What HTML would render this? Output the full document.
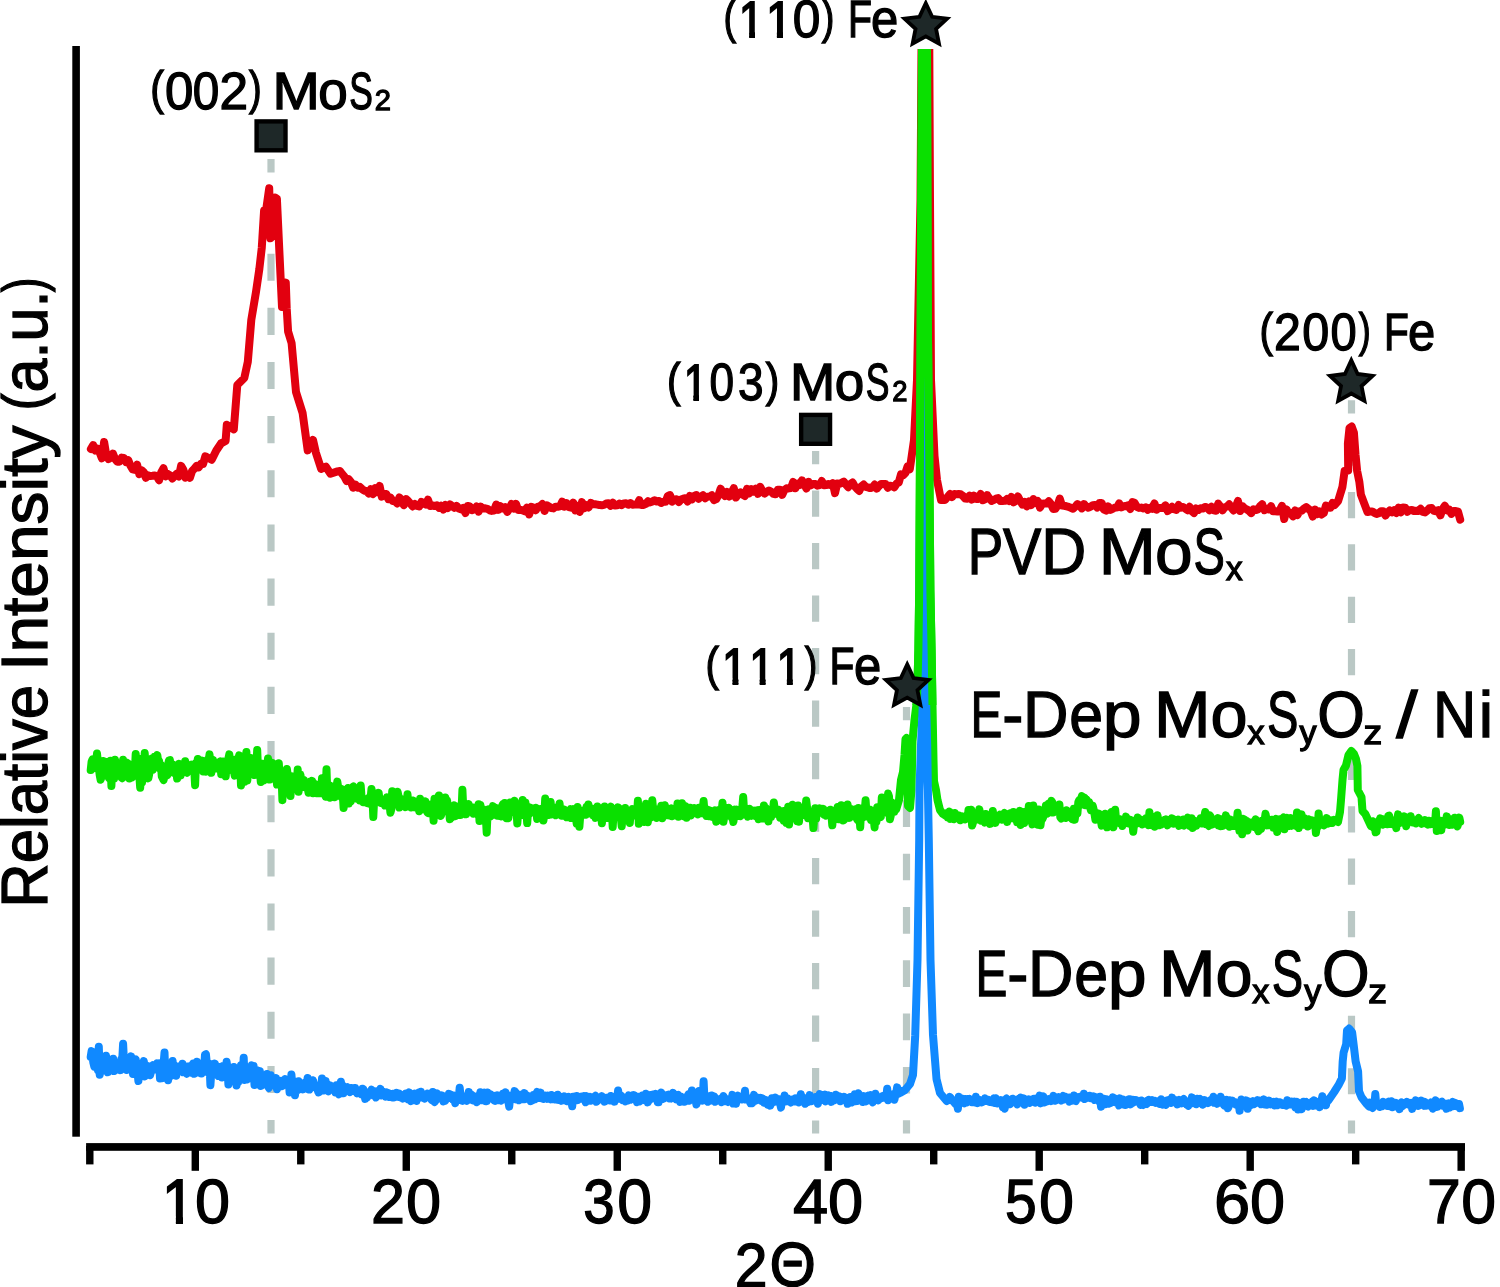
<!DOCTYPE html>
<html><head><meta charset="utf-8"><title>XRD</title>
<style>html,body{margin:0;padding:0;background:#fff;width:1500px;height:1287px;overflow:hidden}svg{display:block}</style>
</head><body>
<svg width="1500" height="1287" viewBox="0 0 1500 1287">
<defs><clipPath id="ct0a"><polygon points="164.90,1176.88 183.00,1176.88 183.00,1225.60 175.89,1225.60 175.89,1216.46 164.90,1216.46"/></clipPath><clipPath id="can1_1"><polygon points="740.30,-0.40 755.00,-0.40 755.00,40.00 749.12,40.00 749.12,31.76 740.30,31.76"/></clipPath><clipPath id="can1_2"><polygon points="767.70,-0.40 783.00,-0.40 783.00,40.00 776.90,40.00 776.90,31.76 767.70,31.76"/></clipPath><clipPath id="can2_1"><polygon points="684.90,362.70 699.00,362.70 699.00,403.10 693.34,403.10 693.34,394.86 684.90,394.86"/></clipPath><clipPath id="can4_1"><polygon points="723.60,646.40 738.40,646.40 738.40,686.80 732.48,686.80 732.48,678.56 723.60,678.56"/></clipPath><clipPath id="can4_2"><polygon points="750.80,646.40 765.60,646.40 765.60,686.80 759.68,686.80 759.68,678.56 750.80,678.56"/></clipPath><clipPath id="can4_3"><polygon points="778.00,646.40 792.80,646.40 792.80,686.80 786.88,686.80 786.88,678.56 778.00,678.56"/></clipPath><clipPath id="gt"><rect x="0" y="0" width="1500" height="705"/></clipPath><clipPath id="pk"><rect x="0" y="49" width="1500" height="1300"/></clipPath></defs>
<rect width="1500" height="1287" fill="#fff"/>
<path d="M271.0,158.90V172.44M271.0,199.51V226.59M271.0,253.66V280.74M271.0,307.81V334.89M271.0,361.96V389.04M271.0,416.11V443.19M271.0,470.26V497.34M271.0,524.41V551.49M271.0,578.56V605.64M271.0,632.71V659.79M271.0,686.86V713.94M271.0,741.01V768.09M271.0,795.16V822.24M271.0,849.31V876.39M271.0,903.46V930.54M271.0,957.61V984.69M271.0,1011.76V1038.84M271.0,1065.91V1092.99M271.0,1120.06V1133.60" stroke="#bac8c5" stroke-width="7.2" fill="none"/><path d="M815.6,451.10V464.23M815.6,490.48V516.73M815.6,542.98V569.23M815.6,595.48V621.73M815.6,647.98V674.23M815.6,700.47V726.72M815.6,752.97V779.22M815.6,805.47V831.72M815.6,857.97V884.22M815.6,910.47V936.72M815.6,962.97V989.22M815.6,1015.47V1041.72M815.6,1067.97V1094.22M815.6,1120.47V1133.60" stroke="#bac8c5" stroke-width="7.2" fill="none"/><path d="M906.5,707.00V720.33M906.5,746.99V773.66M906.5,800.32V826.98M906.5,853.64V880.31M906.5,906.97V933.63M906.5,960.29V986.96M906.5,1013.62V1040.28M906.5,1066.94V1093.61M906.5,1120.27V1133.60" stroke="#bac8c5" stroke-width="7.2" fill="none"/><path d="M1351.5,400.30V413.39M1351.5,439.58V465.77M1351.5,491.96V518.15M1351.5,544.34V570.53M1351.5,596.72V622.91M1351.5,649.10V675.29M1351.5,701.48V727.67M1351.5,753.86V780.04M1351.5,806.23V832.42M1351.5,858.61V884.80M1351.5,910.99V937.18M1351.5,963.37V989.56M1351.5,1015.75V1041.94M1351.5,1068.13V1094.32M1351.5,1120.51V1133.60" stroke="#bac8c5" stroke-width="7.2" fill="none"/>
<g clip-path="url(#pk)">
<path d="M90.9,449.0 L93.1,445.1 L95.3,450.6 L97.5,448.8 L99.7,452.5 L101.9,458.3 L104.1,442.0 L106.3,455.1 L108.5,459.1 L110.7,457.7 L112.9,453.6 L115.1,459.0 L117.3,461.7 L119.5,461.7 L121.7,457.6 L123.9,457.9 L126.1,462.1 L128.3,460.3 L130.5,465.7 L132.7,469.4 L134.9,469.9 L137.1,464.7 L139.3,474.1 L141.5,470.2 L143.7,472.0 L145.9,477.8 L148.1,475.4 L150.3,476.0 L152.5,475.8 L154.7,475.5 L156.9,476.5 L159.1,480.2 L161.3,472.1 L163.5,468.2 L165.7,476.3 L167.9,474.0 L170.1,475.4 L172.3,478.5 L174.5,476.2 L176.7,473.8 L178.9,476.4 L181.1,465.9 L183.3,469.5 L185.5,477.6 L187.7,474.4 L189.9,477.7 L192.1,471.0 L194.3,468.7 L196.5,466.0 L198.7,467.4 L200.9,463.8 L203.1,463.9 L205.3,456.3 L211.7,459.7 L216.3,450.4 L221.0,443.4 L225.6,441.0 L226.8,424.8 L233.8,429.4 L237.3,385.0 L244.3,378.0 L247.8,361.8 L251.3,319.9 L256.0,291.9 L259.4,268.6 L261.8,247.6 L264.1,210.3 L266.4,208.0 L269.2,188.2 L270.4,238.3 L272.7,236.0 L275.0,197.5 L276.9,198.6 L279.3,250.0 L282.0,307.0 L285.8,282.6 L286.7,308.2 L288.1,331.5 L291.6,343.2 L296.0,392.0 L302.6,413.0 L307.7,450.4 L313.0,440.0 L315.9,452.7 L321.2,469.0 L325.9,466.7 L330.5,473.7 L337.5,471.4 L340.0,471.0 L342.2,474.0 L344.4,476.6 L346.6,481.0 L348.8,479.3 L351.0,482.0 L353.2,487.7 L355.4,484.6 L357.6,487.6 L359.8,486.9 L362.0,489.0 L364.2,490.7 L366.4,490.9 L368.6,493.4 L370.8,489.2 L373.0,494.0 L375.2,488.1 L377.4,492.0 L379.6,485.9 L381.8,496.6 L384.0,493.7 L386.2,493.9 L388.4,499.2 L390.6,497.8 L392.8,501.1 L395.0,501.3 L397.2,503.5 L399.4,497.4 L401.6,501.7 L403.8,505.1 L406.0,499.0 L408.2,501.0 L410.4,503.6 L412.6,506.4 L414.8,504.0 L417.0,505.8 L419.2,506.4 L421.4,501.9 L423.6,503.2 L425.8,504.5 L428.0,499.7 L430.2,506.0 L432.4,505.5 L434.6,506.0 L436.8,505.4 L439.0,507.8 L441.2,505.8 L443.4,509.6 L445.6,505.0 L447.8,508.0 L450.0,504.4 L452.2,506.2 L454.4,507.8 L456.6,505.9 L458.8,508.5 L461.0,509.4 L463.2,507.9 L465.4,513.0 L467.6,506.0 L469.8,506.5 L472.0,510.1 L474.2,509.4 L476.4,506.6 L478.6,511.5 L480.8,506.7 L483.0,508.6 L485.2,508.3 L487.4,508.8 L489.6,510.3 L491.8,510.9 L494.0,510.6 L496.2,504.6 L498.4,509.8 L500.6,506.3 L502.8,508.4 L505.0,507.1 L507.2,511.9 L509.4,508.7 L511.6,504.0 L513.8,508.6 L516.0,503.9 L518.2,510.0 L520.4,509.7 L522.6,510.4 L524.8,511.3 L527.0,507.6 L529.2,514.5 L531.4,506.9 L533.6,507.5 L535.8,510.2 L538.0,506.6 L540.2,506.2 L542.4,504.0 L544.6,511.0 L546.8,505.3 L549.0,506.5 L551.2,508.1 L553.4,508.4 L555.6,506.7 L557.8,506.8 L560.0,506.4 L562.2,501.6 L564.4,506.5 L566.6,503.1 L568.8,507.2 L571.0,507.7 L573.2,502.6 L575.4,510.5 L577.6,505.8 L579.8,512.0 L582.0,502.1 L584.2,508.3 L586.4,505.1 L588.6,507.4 L590.8,502.9 L593.0,504.0 L595.2,504.3 L597.4,504.6 L599.6,505.1 L601.8,505.3 L604.0,504.9 L606.2,503.5 L608.4,503.3 L610.6,505.8 L612.8,502.8 L615.0,505.6 L617.2,505.3 L619.4,503.5 L621.6,505.2 L623.8,503.4 L626.0,503.2 L628.2,504.7 L630.4,503.1 L632.6,504.7 L634.8,504.6 L637.0,504.6 L639.2,500.2 L641.4,505.0 L643.6,504.9 L645.8,503.9 L648.0,501.2 L650.2,502.4 L652.4,501.5 L654.6,500.2 L656.8,501.5 L659.0,501.0 L661.2,503.0 L663.4,501.8 L665.6,501.8 L667.8,495.9 L670.0,495.1 L672.2,501.6 L674.4,499.6 L676.6,499.2 L678.8,502.0 L681.0,499.5 L683.2,498.7 L685.4,498.2 L687.6,501.5 L689.8,495.9 L692.0,499.3 L694.2,495.9 L696.4,495.0 L698.6,498.7 L700.8,496.8 L703.0,495.2 L705.2,498.2 L707.4,496.7 L709.6,496.6 L711.8,495.3 L714.0,500.1 L716.2,499.1 L718.4,495.4 L720.6,488.7 L722.8,492.9 L725.0,496.0 L727.2,491.9 L729.4,496.5 L731.6,492.8 L733.8,488.2 L736.0,497.5 L738.2,493.9 L740.4,492.3 L742.6,494.6 L744.8,496.0 L747.0,488.9 L749.2,493.4 L751.4,489.1 L753.6,491.6 L755.8,488.7 L758.0,493.9 L760.2,486.8 L762.4,491.1 L764.6,493.5 L766.8,491.8 L769.0,490.5 L771.2,491.7 L773.4,493.8 L775.6,494.2 L777.8,489.8 L780.0,489.7 L782.2,494.8 L784.4,490.1 L786.6,488.3 L788.8,488.4 L791.0,488.0 L793.2,481.9 L795.4,488.2 L797.6,483.6 L799.8,484.8 L802.0,480.3 L804.2,483.8 L806.4,488.5 L808.6,481.9 L810.8,485.2 L813.0,483.9 L815.2,484.0 L817.4,485.7 L819.6,485.2 L821.8,481.0 L824.0,485.3 L826.2,485.0 L828.4,484.0 L830.6,485.0 L832.8,483.2 L835.0,493.1 L837.2,483.5 L839.4,484.0 L841.6,482.8 L843.8,481.7 L846.0,484.7 L848.2,487.2 L850.4,484.1 L852.6,482.5 L854.8,486.4 L857.0,488.8 L859.2,490.9 L861.4,486.3 L863.6,484.5 L865.8,486.8 L868.0,487.4 L870.2,488.1 L872.4,487.4 L874.6,484.6 L876.8,488.6 L879.0,486.0 L881.2,483.9 L883.4,484.1 L885.6,484.0 L887.8,487.7 L890.0,485.7 L892.2,486.2 L894.4,487.3 L896.6,483.6 L898.8,482.4 L901.0,474.4 L903.2,475.2 L905.4,472.9 L907.6,466.3 L909.8,469.3 L914.0,440.0 L917.0,380.0 L920.5,200.0 L921.5,49.0 L929.3,49.0 L930.0,200.0 L931.0,380.0 L934.5,456.0 L937.0,480.0 L941.0,500.0 L945.0,500.0 L950.0,494.0 L952.0,497.0 L954.2,494.1 L956.4,494.2 L958.6,494.1 L960.8,494.3 L963.0,496.0 L965.2,498.5 L967.4,498.7 L969.6,495.6 L971.8,499.6 L974.0,495.7 L976.2,499.1 L978.4,499.1 L980.6,494.0 L982.8,500.2 L985.0,499.3 L987.2,495.1 L989.4,498.4 L991.6,501.0 L993.8,499.9 L996.0,498.7 L998.2,498.1 L1000.4,501.0 L1002.6,500.9 L1004.8,500.8 L1007.0,499.0 L1009.2,500.9 L1011.4,497.0 L1013.6,502.3 L1015.8,501.1 L1018.0,496.5 L1020.2,500.8 L1022.4,504.6 L1024.6,501.9 L1026.8,506.3 L1029.0,501.4 L1031.2,505.1 L1033.4,499.0 L1035.6,502.8 L1037.8,501.1 L1040.0,507.6 L1042.2,503.7 L1044.4,503.4 L1046.6,503.6 L1048.8,501.3 L1051.0,504.0 L1053.2,509.0 L1055.4,508.7 L1057.6,505.4 L1059.8,498.6 L1062.0,505.6 L1064.2,505.8 L1066.4,506.2 L1068.6,506.9 L1070.8,507.8 L1073.0,508.7 L1075.2,506.8 L1077.4,504.2 L1079.6,505.3 L1081.8,508.4 L1084.0,504.1 L1086.2,506.4 L1088.4,507.7 L1090.6,506.6 L1092.8,505.3 L1095.0,505.1 L1097.2,507.5 L1099.4,502.9 L1101.6,502.9 L1103.8,509.4 L1106.0,510.6 L1108.2,506.5 L1110.4,509.9 L1112.6,508.9 L1114.8,507.6 L1117.0,507.6 L1119.2,503.4 L1121.4,507.3 L1123.6,506.3 L1125.8,506.0 L1128.0,505.3 L1130.2,509.0 L1132.4,502.1 L1134.6,502.8 L1136.8,506.9 L1139.0,507.9 L1141.2,507.6 L1143.4,508.4 L1145.6,507.3 L1147.8,509.8 L1150.0,507.9 L1152.2,508.8 L1154.4,503.4 L1156.6,509.7 L1158.8,507.9 L1161.0,508.0 L1163.2,508.1 L1165.4,505.4 L1167.6,511.0 L1169.8,509.4 L1172.0,506.8 L1174.2,509.3 L1176.4,510.0 L1178.6,505.0 L1180.8,507.6 L1183.0,506.9 L1185.2,508.5 L1187.4,510.2 L1189.6,506.8 L1191.8,511.0 L1194.0,513.0 L1196.2,508.5 L1198.4,509.9 L1200.6,508.3 L1202.8,508.6 L1205.0,506.9 L1207.2,507.6 L1209.4,510.2 L1211.6,506.8 L1213.8,510.3 L1216.0,510.7 L1218.2,503.6 L1220.4,506.4 L1222.6,510.3 L1224.8,507.2 L1227.0,506.5 L1229.2,504.3 L1231.4,507.8 L1233.6,510.5 L1235.8,506.7 L1238.0,501.0 L1240.2,511.0 L1242.4,506.2 L1244.6,508.4 L1246.8,509.4 L1249.0,510.9 L1251.2,513.1 L1253.4,509.4 L1255.6,510.1 L1257.8,509.4 L1260.0,506.3 L1262.2,504.3 L1264.4,510.2 L1266.6,508.7 L1268.8,509.5 L1271.0,506.2 L1273.2,511.3 L1275.4,511.3 L1277.6,511.6 L1279.8,510.1 L1282.0,505.9 L1284.2,519.0 L1286.4,509.3 L1288.6,513.2 L1290.8,513.0 L1293.0,516.4 L1295.2,510.4 L1297.4,515.1 L1299.6,511.1 L1301.8,510.8 L1304.0,508.5 L1306.2,507.1 L1308.4,508.9 L1310.6,510.7 L1312.8,516.5 L1315.0,509.6 L1317.2,514.2 L1319.4,511.5 L1321.6,514.5 L1323.8,513.0 L1326.0,505.5 L1328.2,507.4 L1330.4,507.8 L1332.6,503.0 L1334.8,504.9 L1338.1,501.2 L1342.4,487.0 L1344.6,471.0 L1348.2,470.5 L1347.9,443.5 L1349.5,428.0 L1351.7,426.5 L1353.9,432.6 L1355.5,454.4 L1357.1,470.7 L1359.3,481.6 L1360.9,494.7 L1364.2,503.4 L1367.5,512.0 L1370.0,511.6 L1372.2,511.5 L1374.4,512.8 L1376.6,513.9 L1378.8,513.2 L1381.0,511.2 L1383.2,511.2 L1385.4,515.5 L1387.6,512.6 L1389.8,510.5 L1392.0,512.3 L1394.2,510.3 L1396.4,512.9 L1398.6,507.6 L1400.8,512.4 L1403.0,507.6 L1405.2,507.8 L1407.4,511.7 L1409.6,510.2 L1411.8,510.0 L1414.0,511.0 L1416.2,510.8 L1418.4,511.0 L1420.6,508.8 L1422.8,511.9 L1425.0,512.4 L1427.2,510.6 L1429.4,508.2 L1431.6,508.1 L1433.8,510.8 L1436.0,511.2 L1438.2,510.2 L1440.4,515.4 L1442.6,508.9 L1444.8,505.7 L1447.0,510.4 L1449.2,509.5 L1451.4,513.9 L1453.6,510.9 L1455.8,511.0 L1458.0,511.6 L1460.2,519.6" stroke="#e2000f" fill="none" stroke-width="8" stroke-linejoin="round" stroke-linecap="round"/>
<path d="M90.7,770.1 L91.6,761.7 L92.5,759.4 L93.4,768.5 L94.3,767.0 L95.2,765.2 L96.1,761.7 L97.0,753.5 L97.9,762.2 L98.8,767.8 L99.7,774.9 L100.6,779.7 L101.5,777.0 L102.4,770.0 L103.3,761.1 L104.2,761.6 L105.1,763.8 L106.0,765.1 L106.9,772.7 L107.8,761.7 L108.7,777.6 L109.6,778.7 L110.5,760.7 L111.4,786.1 L112.3,765.9 L113.2,770.5 L114.1,778.5 L115.0,759.8 L115.9,765.8 L116.8,766.7 L117.7,768.3 L118.6,763.9 L119.5,766.5 L120.4,769.2 L121.3,777.3 L122.2,778.2 L123.1,759.7 L124.0,766.1 L124.9,774.7 L125.8,765.2 L126.7,762.6 L127.6,774.4 L128.5,763.9 L129.4,778.6 L130.3,770.8 L131.2,775.7 L132.1,777.4 L133.0,770.0 L133.9,767.4 L134.8,772.7 L135.7,753.9 L136.6,763.9 L137.5,774.1 L138.4,758.7 L139.3,775.8 L140.2,787.8 L141.1,765.8 L142.0,782.6 L142.9,773.9 L143.8,778.3 L144.7,753.1 L145.6,765.6 L146.5,764.7 L147.4,772.8 L148.3,778.4 L149.2,774.2 L150.1,764.6 L151.0,768.2 L151.9,758.6 L152.8,769.8 L153.7,762.7 L154.6,756.8 L155.5,764.0 L156.4,758.8 L157.3,755.1 L158.2,761.4 L159.1,760.9 L160.0,768.5 L160.9,764.8 L161.8,776.4 L162.7,778.2 L163.6,780.1 L164.5,774.2 L165.4,776.4 L166.3,768.1 L167.2,775.3 L168.1,764.1 L169.0,760.3 L169.9,760.1 L170.8,770.2 L171.7,772.2 L172.6,764.2 L173.5,768.5 L174.4,773.1 L175.3,769.9 L176.2,768.1 L177.1,778.6 L178.0,766.4 L178.9,763.8 L179.8,765.8 L180.7,775.5 L181.6,769.7 L182.5,770.6 L183.4,766.9 L184.3,770.3 L185.2,761.2 L186.1,771.5 L187.0,772.7 L187.9,766.4 L188.8,767.8 L189.7,770.0 L190.6,766.6 L191.5,764.6 L192.4,770.0 L193.3,769.1 L194.2,768.4 L195.1,785.2 L196.0,763.0 L196.9,766.7 L197.8,759.0 L198.7,767.9 L199.6,762.0 L200.5,769.3 L201.4,766.1 L202.3,760.6 L203.2,771.4 L204.1,769.6 L205.0,770.5 L205.9,771.5 L206.8,763.7 L207.7,759.8 L208.6,761.2 L209.5,754.4 L210.4,762.5 L211.3,772.8 L212.2,763.6 L213.1,759.9 L214.0,768.9 L214.9,763.4 L215.8,768.4 L216.7,768.3 L217.6,768.0 L218.5,764.7 L219.4,762.2 L220.3,761.5 L221.2,774.3 L222.1,771.9 L223.0,761.6 L223.9,769.5 L224.8,770.6 L225.7,776.3 L226.6,766.5 L227.5,770.7 L228.4,758.6 L229.3,754.3 L230.2,764.6 L231.1,761.7 L232.0,762.0 L232.9,764.4 L233.8,770.6 L234.7,775.6 L235.6,759.6 L236.5,764.2 L237.4,761.9 L238.3,758.9 L239.2,755.3 L240.1,760.1 L241.0,785.4 L241.9,770.5 L242.8,770.5 L243.7,764.9 L244.6,781.8 L245.5,761.9 L246.4,752.0 L247.3,780.3 L248.2,769.3 L249.1,772.6 L250.0,767.5 L250.9,757.9 L251.8,760.8 L252.7,766.5 L253.6,769.8 L254.5,775.0 L255.4,759.5 L256.3,765.7 L257.2,750.0 L258.1,771.5 L259.0,768.4 L259.9,770.9 L260.8,781.9 L261.7,774.6 L262.6,763.8 L263.5,780.6 L264.4,772.8 L265.3,778.1 L266.2,772.4 L267.1,779.2 L268.0,758.4 L268.9,767.4 L269.8,779.6 L270.7,766.0 L271.6,768.7 L272.5,762.9 L273.4,773.3 L274.3,769.5 L275.2,765.0 L276.1,774.1 L277.0,784.6 L277.9,770.4 L278.8,763.3 L279.7,776.4 L280.6,780.5 L281.5,773.8 L282.4,800.2 L283.3,778.7 L284.2,781.7 L285.1,786.2 L286.0,787.7 L286.9,769.1 L287.8,775.5 L288.7,776.9 L289.6,779.5 L290.5,796.1 L291.4,776.2 L292.3,782.4 L293.2,788.7 L294.1,788.7 L295.0,783.9 L295.9,789.0 L296.8,782.4 L297.7,769.5 L298.6,791.8 L299.5,779.8 L300.4,774.5 L301.3,780.8 L302.2,782.6 L303.1,782.5 L304.0,780.1 L304.9,787.3 L305.8,782.5 L306.7,782.4 L307.6,787.2 L308.5,792.7 L309.4,783.3 L310.3,781.6 L311.2,787.9 L312.1,780.9 L313.0,793.3 L313.9,786.8 L314.8,783.8 L315.7,788.4 L316.6,789.2 L317.5,793.3 L318.4,786.7 L319.3,788.7 L320.2,793.3 L321.1,792.0 L322.0,778.2 L322.9,792.8 L323.8,782.2 L324.7,794.3 L325.6,796.7 L326.5,769.2 L327.4,795.6 L328.3,792.5 L329.2,785.3 L330.1,797.8 L331.0,786.2 L331.9,792.7 L332.8,790.8 L333.7,791.0 L334.6,797.3 L335.5,789.5 L336.4,788.6 L337.3,781.6 L338.2,787.1 L339.1,792.5 L340.0,795.7 L340.9,796.8 L341.8,788.9 L342.7,792.6 L343.6,808.1 L344.5,800.4 L345.4,792.3 L346.3,790.8 L347.2,795.2 L348.1,788.0 L349.0,803.5 L349.9,800.1 L350.8,801.4 L351.7,796.8 L352.6,787.1 L353.5,786.4 L354.4,789.6 L355.3,796.9 L356.2,792.3 L357.1,798.6 L358.0,793.3 L358.9,796.5 L359.8,800.4 L360.7,785.5 L361.6,798.0 L362.5,797.7 L363.4,802.2 L364.3,799.9 L365.2,799.2 L366.1,802.5 L367.0,803.0 L367.9,798.9 L368.8,797.8 L369.7,803.7 L370.6,798.3 L371.5,788.9 L372.4,795.0 L373.3,817.1 L374.2,798.6 L375.1,799.5 L376.0,798.0 L376.9,795.2 L377.8,797.8 L378.7,792.9 L379.6,801.0 L380.5,802.8 L381.4,802.4 L382.3,803.2 L383.2,801.8 L384.1,800.5 L385.0,805.5 L385.9,799.8 L386.8,797.3 L387.7,800.8 L388.6,800.9 L389.5,803.2 L390.4,812.7 L391.3,809.2 L392.2,791.3 L393.1,805.1 L394.0,802.2 L394.9,801.2 L395.8,796.8 L396.7,799.2 L397.6,791.7 L398.5,796.1 L399.4,807.6 L400.3,803.6 L401.2,799.0 L402.1,805.5 L403.0,803.9 L403.9,804.2 L404.8,804.7 L405.7,807.0 L406.6,805.9 L407.5,794.3 L408.4,805.5 L409.3,801.1 L410.2,800.9 L411.1,807.5 L412.0,805.8 L412.9,800.5 L413.8,807.3 L414.7,803.1 L415.6,807.5 L416.5,807.4 L417.4,807.0 L418.3,805.3 L419.2,811.2 L420.1,798.8 L421.0,805.1 L421.9,803.9 L422.8,801.3 L423.7,803.0 L424.6,805.3 L425.5,801.3 L426.4,810.5 L427.3,812.3 L428.2,813.0 L429.1,810.8 L430.0,810.6 L430.9,813.6 L431.8,804.3 L432.7,804.7 L433.6,820.8 L434.5,798.7 L435.4,812.5 L436.3,804.2 L437.2,813.2 L438.1,810.8 L439.0,795.4 L439.9,805.7 L440.8,816.0 L441.7,813.5 L442.6,803.3 L443.5,805.9 L444.4,810.7 L445.3,797.5 L446.2,803.1 L447.1,800.3 L448.0,809.2 L448.9,807.3 L449.8,819.3 L450.7,813.0 L451.6,817.6 L452.5,808.1 L453.4,808.4 L454.3,805.3 L455.2,816.2 L456.1,810.5 L457.0,810.2 L457.9,806.8 L458.8,806.7 L459.7,815.0 L460.6,815.0 L461.5,811.7 L462.4,789.8 L463.3,808.9 L464.2,806.4 L465.1,809.2 L466.0,814.3 L466.9,805.9 L467.8,807.0 L468.7,804.0 L469.6,809.3 L470.5,807.6 L471.4,809.6 L472.3,811.9 L473.2,813.6 L474.1,807.6 L475.0,808.7 L475.9,811.7 L476.8,811.0 L477.7,814.5 L478.6,804.2 L479.5,821.1 L480.4,805.0 L481.3,811.0 L482.2,811.3 L483.1,813.0 L484.0,809.7 L484.9,812.2 L485.8,816.3 L486.7,832.7 L487.6,812.1 L488.5,809.3 L489.4,815.4 L490.3,816.6 L491.2,811.4 L492.1,812.8 L493.0,806.1 L493.9,808.0 L494.8,814.6 L495.7,807.6 L496.6,812.3 L497.5,815.6 L498.4,812.1 L499.3,815.9 L500.2,815.9 L501.1,816.3 L502.0,806.2 L502.9,804.2 L503.8,813.8 L504.7,803.1 L505.6,811.8 L506.5,818.2 L507.4,811.3 L508.3,818.2 L509.2,812.4 L510.1,802.5 L511.0,812.5 L511.9,807.5 L512.8,804.3 L513.7,809.8 L514.6,800.7 L515.5,804.4 L516.4,808.9 L517.3,823.4 L518.2,811.9 L519.1,807.2 L520.0,804.9 L520.9,813.5 L521.8,814.9 L522.7,800.1 L523.6,804.3 L524.5,808.5 L525.4,802.5 L526.3,811.1 L527.2,823.1 L528.1,810.4 L529.0,814.4 L529.9,807.5 L530.8,810.2 L531.7,810.2 L532.6,808.4 L533.5,812.2 L534.4,811.3 L535.3,811.5 L536.2,807.8 L537.1,819.0 L538.0,813.0 L538.9,813.1 L539.8,816.0 L540.7,808.9 L541.6,809.1 L542.5,812.8 L543.4,820.6 L544.3,815.2 L545.2,798.6 L546.1,813.4 L547.0,807.8 L547.9,815.0 L548.8,811.9 L549.7,814.8 L550.6,801.9 L551.5,814.6 L552.4,811.7 L553.3,809.9 L554.2,807.5 L555.1,810.2 L556.0,815.2 L556.9,809.8 L557.8,812.6 L558.7,811.3 L559.6,803.5 L560.5,813.3 L561.4,815.7 L562.3,809.9 L563.2,815.7 L564.1,809.5 L565.0,814.8 L565.9,812.1 L566.8,817.2 L567.7,812.7 L568.6,817.1 L569.5,810.7 L570.4,809.3 L571.3,818.0 L572.2,810.4 L573.1,809.2 L574.0,817.9 L574.9,813.0 L575.8,817.1 L576.7,823.7 L577.6,807.0 L578.5,812.3 L579.4,826.7 L580.3,814.5 L581.2,812.1 L582.1,813.2 L583.0,813.9 L583.9,814.4 L584.8,810.0 L585.7,814.7 L586.6,806.8 L587.5,809.3 L588.4,804.5 L589.3,813.1 L590.2,813.6 L591.1,808.1 L592.0,812.6 L592.9,815.0 L593.8,810.2 L594.7,810.8 L595.6,817.9 L596.5,816.7 L597.4,806.5 L598.3,811.9 L599.2,810.0 L600.1,817.8 L601.0,810.1 L601.9,823.2 L602.8,810.4 L603.7,817.8 L604.6,806.5 L605.5,815.9 L606.4,807.8 L607.3,818.1 L608.2,808.6 L609.1,808.1 L610.0,808.5 L610.9,806.8 L611.8,809.0 L612.7,827.1 L613.6,812.6 L614.5,811.3 L615.4,811.9 L616.3,811.9 L617.2,813.2 L618.1,807.4 L619.0,808.1 L619.9,814.7 L620.8,817.0 L621.7,826.2 L622.6,817.8 L623.5,813.4 L624.4,812.4 L625.3,808.0 L626.2,814.0 L627.1,814.2 L628.0,812.0 L628.9,813.1 L629.8,823.0 L630.7,811.9 L631.6,813.0 L632.5,809.1 L633.4,814.8 L634.3,812.6 L635.2,815.5 L636.1,812.9 L637.0,815.1 L637.9,800.8 L638.8,823.8 L639.7,808.1 L640.6,815.7 L641.5,811.2 L642.4,813.6 L643.3,813.8 L644.2,822.0 L645.1,812.3 L646.0,803.7 L646.9,806.8 L647.8,822.3 L648.7,815.6 L649.6,806.4 L650.5,817.7 L651.4,811.5 L652.3,800.3 L653.2,810.3 L654.1,812.4 L655.0,811.3 L655.9,809.1 L656.8,817.9 L657.7,814.9 L658.6,814.2 L659.5,812.7 L660.4,815.2 L661.3,805.8 L662.2,818.3 L663.1,810.9 L664.0,808.8 L664.9,805.2 L665.8,813.2 L666.7,810.5 L667.6,815.3 L668.5,813.0 L669.4,815.4 L670.3,809.2 L671.2,808.5 L672.1,816.2 L673.0,809.7 L673.9,812.2 L674.8,815.1 L675.7,812.9 L676.6,814.0 L677.5,803.6 L678.4,816.8 L679.3,807.4 L680.2,813.6 L681.1,815.6 L682.0,803.2 L682.9,811.7 L683.8,816.1 L684.7,807.9 L685.6,806.3 L686.5,817.8 L687.4,812.4 L688.3,811.3 L689.2,815.6 L690.1,807.8 L691.0,815.5 L691.9,813.8 L692.8,810.0 L693.7,812.5 L694.6,808.1 L695.5,812.4 L696.4,812.2 L697.3,810.3 L698.2,814.4 L699.1,807.8 L700.0,810.9 L700.9,809.9 L701.8,813.2 L702.7,809.5 L703.6,801.0 L704.5,811.6 L705.4,813.8 L706.3,815.8 L707.2,809.5 L708.1,812.0 L709.0,816.3 L709.9,810.5 L710.8,816.0 L711.7,814.8 L712.6,816.9 L713.5,811.0 L714.4,814.9 L715.3,810.4 L716.2,821.7 L717.1,815.7 L718.0,820.2 L718.9,810.1 L719.8,815.3 L720.7,816.2 L721.6,811.3 L722.5,802.8 L723.4,821.8 L724.3,816.7 L725.2,807.6 L726.1,807.9 L727.0,814.9 L727.9,810.4 L728.8,807.8 L729.7,810.1 L730.6,815.4 L731.5,817.5 L732.4,814.8 L733.3,822.0 L734.2,817.2 L735.1,809.6 L736.0,816.6 L736.9,809.6 L737.8,811.6 L738.7,813.3 L739.6,814.2 L740.5,816.2 L741.4,813.0 L742.3,807.7 L743.2,796.9 L744.1,811.2 L745.0,810.7 L745.9,814.2 L746.8,814.6 L747.7,816.6 L748.6,810.9 L749.5,808.8 L750.4,814.8 L751.3,815.7 L752.2,812.8 L753.1,811.7 L754.0,810.7 L754.9,815.8 L755.8,816.3 L756.7,814.1 L757.6,810.4 L758.5,819.2 L759.4,810.0 L760.3,813.4 L761.2,815.3 L762.1,818.5 L763.0,818.6 L763.9,805.5 L764.8,812.5 L765.7,808.0 L766.6,818.5 L767.5,815.8 L768.4,821.4 L769.3,811.2 L770.2,812.9 L771.1,817.2 L772.0,810.3 L772.9,810.4 L773.8,802.4 L774.7,808.8 L775.6,813.7 L776.5,811.5 L777.4,813.0 L778.3,809.6 L779.2,811.4 L780.1,817.8 L781.0,811.1 L781.9,811.5 L782.8,811.8 L783.7,820.6 L784.6,810.8 L785.5,812.6 L786.4,822.8 L787.3,815.9 L788.2,806.7 L789.1,824.6 L790.0,807.4 L790.9,817.5 L791.8,809.6 L792.7,804.8 L793.6,807.5 L794.5,810.3 L795.4,817.4 L796.3,811.8 L797.2,821.2 L798.1,805.5 L799.0,821.7 L799.9,810.9 L800.8,813.1 L801.7,813.1 L802.6,813.1 L803.5,814.7 L804.4,813.2 L805.3,812.2 L806.2,800.5 L807.1,807.8 L808.0,818.2 L808.9,811.5 L809.8,812.3 L810.7,816.1 L811.6,814.4 L812.5,815.8 L813.4,828.1 L814.3,817.7 L815.2,808.2 L816.1,818.8 L817.0,808.9 L817.9,813.6 L818.8,810.1 L819.7,808.4 L820.6,810.5 L821.5,812.3 L822.4,813.0 L823.3,808.9 L824.2,814.5 L825.1,811.9 L826.0,815.6 L826.9,812.9 L827.8,811.2 L828.7,813.0 L829.6,813.8 L830.5,809.7 L831.4,814.9 L832.3,825.3 L833.2,814.7 L834.1,818.8 L835.0,815.4 L835.9,812.3 L836.8,816.4 L837.7,806.9 L838.6,819.2 L839.5,814.6 L840.4,811.3 L841.3,805.2 L842.2,805.8 L843.1,820.6 L844.0,820.1 L844.9,812.9 L845.8,814.3 L846.7,815.7 L847.6,804.6 L848.5,810.7 L849.4,817.9 L850.3,811.6 L851.2,809.0 L852.1,813.6 L853.0,809.7 L853.9,816.3 L854.8,814.2 L855.7,809.2 L856.6,818.1 L857.5,819.9 L858.4,808.1 L859.3,812.4 L860.2,827.2 L861.1,810.8 L862.0,815.2 L862.9,817.8 L863.8,807.6 L864.7,811.3 L865.6,800.2 L866.5,813.1 L867.4,816.5 L868.3,810.0 L869.2,812.5 L870.1,809.5 L871.0,819.9 L871.9,813.8 L872.8,810.6 L873.7,819.1 L874.6,827.4 L875.5,810.6 L876.4,821.7 L877.3,807.2 L878.2,815.6 L879.1,817.6 L880.0,815.5 L880.9,816.9 L881.8,797.4 L882.7,810.3 L883.6,812.9 L884.5,811.9 L885.4,802.7 L886.3,811.3 L887.2,811.5 L888.1,793.6 L889.0,796.5 L889.9,819.2 L890.8,815.5 L891.7,802.6 L892.6,809.4 L893.5,806.4 L894.4,811.9 L895.3,806.7 L896.2,809.4 L899.0,800.0 L901.0,780.0 L903.0,772.0 L904.5,755.0 L905.5,739.0 L906.5,738.0 L907.0,760.0 L907.5,790.0 L908.0,806.0 L910.0,808.0 L911.5,790.0 L912.5,741.0 L914.5,720.0 L917.0,700.0 L918.4,650.0 L919.2,590.0 L920.0,450.0 L920.7,320.0 L922.0,49.0 L927.0,49.0 L927.8,320.0 L929.2,450.0 L930.4,590.0 L931.6,650.0 L932.5,705.0 L933.5,760.0 L934.0,781.0 L936.0,790.0 L937.5,800.0 L940.0,810.0 L943.0,814.0 L946.0,816.0 L946.0,814.1 L946.9,813.2 L947.8,817.3 L948.7,816.3 L949.6,811.6 L950.5,818.9 L951.4,813.3 L952.3,814.7 L953.2,814.4 L954.1,819.3 L955.0,813.0 L955.9,814.8 L956.8,817.4 L957.7,817.4 L958.6,816.6 L959.5,815.8 L960.4,820.3 L961.3,816.9 L962.2,816.3 L963.1,816.7 L964.0,817.1 L964.9,819.4 L965.8,819.3 L966.7,815.8 L967.6,818.4 L968.5,809.9 L969.4,815.6 L970.3,816.0 L971.2,809.8 L972.1,825.5 L973.0,822.5 L973.9,815.8 L974.8,817.9 L975.7,818.9 L976.6,819.5 L977.5,818.7 L978.4,813.4 L979.3,809.3 L980.2,814.4 L981.1,820.8 L982.0,820.1 L982.9,815.8 L983.8,820.3 L984.7,822.5 L985.6,814.0 L986.5,821.8 L987.4,817.6 L988.3,819.5 L989.2,816.9 L990.1,823.9 L991.0,815.8 L991.9,820.6 L992.8,811.1 L993.7,817.3 L994.6,817.9 L995.5,822.9 L996.4,819.2 L997.3,817.3 L998.2,817.2 L999.1,816.4 L1000.0,814.8 L1000.9,819.3 L1001.8,819.7 L1002.7,816.6 L1003.6,814.4 L1004.5,813.0 L1005.4,815.8 L1006.3,818.0 L1007.2,821.9 L1008.1,814.4 L1009.0,817.7 L1009.9,813.3 L1010.8,813.2 L1011.7,818.3 L1012.6,818.2 L1013.5,812.0 L1014.4,813.4 L1015.3,819.0 L1016.2,817.4 L1017.1,822.2 L1018.0,814.4 L1018.9,814.7 L1019.8,810.8 L1020.7,825.0 L1021.6,815.0 L1022.5,821.0 L1023.4,818.4 L1024.3,823.0 L1025.2,811.7 L1026.1,815.4 L1027.0,820.5 L1027.9,816.3 L1028.8,806.0 L1029.7,818.4 L1030.6,809.8 L1031.5,820.2 L1032.4,824.4 L1033.3,805.5 L1034.2,817.3 L1035.1,816.4 L1036.0,815.6 L1036.9,818.7 L1037.8,824.6 L1038.7,809.4 L1039.6,816.9 L1040.5,825.3 L1041.4,818.1 L1042.3,819.2 L1043.2,817.1 L1044.1,809.7 L1045.0,813.8 L1045.9,805.5 L1046.8,809.5 L1047.7,813.6 L1048.6,803.7 L1049.5,807.9 L1050.4,803.7 L1051.3,800.9 L1052.2,802.0 L1053.1,812.6 L1054.0,809.4 L1054.9,808.2 L1055.8,809.2 L1056.7,806.4 L1057.6,806.8 L1058.5,810.2 L1059.4,804.5 L1060.3,817.2 L1061.2,818.5 L1062.1,813.6 L1063.0,814.5 L1063.9,816.0 L1064.8,816.3 L1065.7,817.9 L1066.6,810.2 L1067.5,814.6 L1068.4,814.6 L1069.3,812.4 L1070.2,817.3 L1071.1,817.8 L1072.0,818.9 L1072.9,814.4 L1073.8,808.9 L1074.7,819.8 L1075.6,813.5 L1076.5,812.1 L1077.4,813.6 L1078.3,802.2 L1079.2,800.2 L1080.1,805.2 L1081.0,799.6 L1081.9,796.1 L1082.8,803.6 L1083.7,799.3 L1084.6,797.7 L1085.5,805.3 L1086.4,799.5 L1087.3,800.9 L1088.2,802.4 L1089.1,802.2 L1090.0,806.9 L1090.9,810.2 L1091.8,808.9 L1092.7,805.7 L1093.6,809.3 L1094.5,813.9 L1095.4,819.7 L1096.3,815.4 L1097.2,813.2 L1098.1,817.5 L1099.0,813.7 L1099.9,816.5 L1100.8,820.0 L1101.7,825.6 L1102.6,821.9 L1103.5,824.5 L1104.4,822.8 L1105.3,813.8 L1106.2,816.4 L1107.1,827.3 L1108.0,824.1 L1108.9,822.1 L1109.8,817.5 L1110.7,821.3 L1111.6,812.0 L1112.5,822.2 L1113.4,827.2 L1114.3,819.5 L1115.2,809.8 L1116.1,820.1 L1117.0,820.2 L1117.9,820.2 L1118.8,822.9 L1119.7,819.2 L1120.6,819.8 L1121.5,821.7 L1122.4,826.0 L1123.3,821.3 L1124.2,823.4 L1125.1,822.0 L1126.0,816.6 L1126.9,819.8 L1127.8,820.3 L1128.7,823.3 L1129.6,820.6 L1130.5,819.9 L1131.4,824.6 L1132.3,820.8 L1133.2,831.7 L1134.1,824.3 L1135.0,820.6 L1135.9,824.0 L1136.8,823.5 L1137.7,817.5 L1138.6,821.8 L1139.5,820.9 L1140.4,819.5 L1141.3,822.6 L1142.2,824.4 L1143.1,823.9 L1144.0,822.3 L1144.9,819.8 L1145.8,818.4 L1146.7,821.3 L1147.6,821.4 L1148.5,825.2 L1149.4,812.2 L1150.3,820.8 L1151.2,818.0 L1152.1,819.6 L1153.0,825.3 L1153.9,817.0 L1154.8,826.7 L1155.7,817.8 L1156.6,821.3 L1157.5,815.3 L1158.4,820.9 L1159.3,825.3 L1160.2,823.5 L1161.1,824.6 L1162.0,823.5 L1162.9,820.9 L1163.8,821.8 L1164.7,819.9 L1165.6,819.4 L1166.5,823.7 L1167.4,825.3 L1168.3,823.4 L1169.2,819.7 L1170.1,823.1 L1171.0,821.8 L1171.9,818.3 L1172.8,820.6 L1173.7,823.7 L1174.6,821.7 L1175.5,819.9 L1176.4,821.0 L1177.3,822.2 L1178.2,819.6 L1179.1,825.9 L1180.0,823.3 L1180.9,823.7 L1181.8,823.9 L1182.7,824.4 L1183.6,819.5 L1184.5,825.6 L1185.4,821.0 L1186.3,821.4 L1187.2,824.0 L1188.1,817.6 L1189.0,822.6 L1189.9,825.9 L1190.8,820.4 L1191.7,818.3 L1192.6,828.0 L1193.5,822.2 L1194.4,820.7 L1195.3,821.0 L1196.2,825.9 L1197.1,823.2 L1198.0,822.9 L1198.9,822.1 L1199.8,822.9 L1200.7,818.2 L1201.6,818.5 L1202.5,823.5 L1203.4,823.0 L1204.3,817.0 L1205.2,812.0 L1206.1,824.3 L1207.0,819.9 L1207.9,824.9 L1208.8,825.9 L1209.7,815.3 L1210.6,816.6 L1211.5,824.8 L1212.4,821.9 L1213.3,824.0 L1214.2,821.5 L1215.1,820.5 L1216.0,819.6 L1216.9,819.4 L1217.8,818.1 L1218.7,825.5 L1219.6,824.3 L1220.5,826.1 L1221.4,819.3 L1222.3,823.0 L1223.2,825.8 L1224.1,820.4 L1225.0,820.1 L1225.9,815.4 L1226.8,822.8 L1227.7,824.3 L1228.6,821.2 L1229.5,826.7 L1230.4,819.4 L1231.3,823.1 L1232.2,824.7 L1233.1,822.2 L1234.0,826.0 L1234.9,825.1 L1235.8,820.9 L1236.7,822.1 L1237.6,812.7 L1238.5,822.8 L1239.4,830.7 L1240.3,821.6 L1241.2,822.3 L1242.1,834.2 L1243.0,818.7 L1243.9,821.8 L1244.8,819.6 L1245.7,821.2 L1246.6,821.1 L1247.5,830.5 L1248.4,825.6 L1249.3,822.9 L1250.2,824.8 L1251.1,822.6 L1252.0,822.9 L1252.9,824.4 L1253.8,826.9 L1254.7,822.1 L1255.6,819.3 L1256.5,826.3 L1257.4,828.7 L1258.3,831.2 L1259.2,823.4 L1260.1,824.0 L1261.0,829.1 L1261.9,820.8 L1262.8,822.8 L1263.7,820.9 L1264.6,820.5 L1265.5,813.8 L1266.4,818.2 L1267.3,825.4 L1268.2,821.6 L1269.1,825.1 L1270.0,823.6 L1270.9,824.4 L1271.8,819.8 L1272.7,822.0 L1273.6,827.8 L1274.5,820.1 L1275.4,825.8 L1276.3,818.9 L1277.2,832.0 L1278.1,821.8 L1279.0,824.2 L1279.9,819.2 L1280.8,825.8 L1281.7,822.8 L1282.6,818.4 L1283.5,817.5 L1284.4,829.3 L1285.3,820.0 L1286.2,821.2 L1287.1,817.8 L1288.0,821.3 L1288.9,826.0 L1289.8,821.2 L1290.7,818.1 L1291.6,825.9 L1292.5,821.3 L1293.4,821.2 L1294.3,820.9 L1295.2,825.0 L1296.1,825.9 L1297.0,812.4 L1297.9,824.3 L1298.8,828.0 L1299.7,820.1 L1300.6,821.2 L1301.5,814.4 L1302.4,821.1 L1303.3,824.8 L1304.2,818.3 L1305.1,824.8 L1306.0,821.8 L1306.9,819.9 L1307.8,826.5 L1308.7,819.2 L1309.6,822.3 L1310.5,822.7 L1311.4,824.6 L1312.3,820.3 L1313.2,822.6 L1314.1,821.4 L1315.0,820.9 L1315.9,833.0 L1316.8,827.0 L1317.7,826.8 L1318.6,813.4 L1319.5,821.4 L1320.4,821.4 L1321.3,821.2 L1322.2,824.7 L1323.1,821.9 L1324.0,825.3 L1324.9,822.9 L1325.8,822.0 L1326.7,818.1 L1327.6,823.8 L1328.5,820.6 L1329.4,821.9 L1330.3,820.3 L1331.2,822.9 L1332.1,823.0 L1334.0,820.0 L1338.0,822.0 L1340.0,812.0 L1341.0,800.0 L1342.5,780.0 L1343.5,770.0 L1346.0,765.5 L1348.5,755.0 L1351.3,751.0 L1354.0,754.0 L1356.0,759.0 L1357.4,766.0 L1357.8,790.0 L1361.5,797.0 L1362.5,811.0 L1365.3,814.0 L1370.9,826.0 L1372.0,825.3 L1372.9,821.2 L1373.8,827.8 L1374.7,826.4 L1375.6,832.3 L1376.5,831.9 L1377.4,823.2 L1378.3,824.7 L1379.2,821.3 L1380.1,818.4 L1381.0,823.0 L1381.9,822.0 L1382.8,824.7 L1383.7,819.4 L1384.6,823.3 L1385.5,819.5 L1386.4,819.5 L1387.3,824.2 L1388.2,816.1 L1389.1,815.6 L1390.0,820.1 L1390.9,823.9 L1391.8,821.6 L1392.7,820.4 L1393.6,824.3 L1394.5,822.6 L1395.4,822.6 L1396.3,828.1 L1397.2,820.3 L1398.1,814.4 L1399.0,817.0 L1399.9,823.1 L1400.8,818.7 L1401.7,821.3 L1402.6,821.1 L1403.5,821.5 L1404.4,816.4 L1405.3,821.6 L1406.2,826.3 L1407.1,821.7 L1408.0,821.3 L1408.9,821.2 L1409.8,820.2 L1410.7,816.2 L1411.6,821.4 L1412.5,822.3 L1413.4,820.1 L1414.3,821.1 L1415.2,820.9 L1416.1,823.5 L1417.0,821.9 L1417.9,819.4 L1418.8,818.0 L1419.7,820.6 L1420.6,822.3 L1421.5,823.8 L1422.4,822.6 L1423.3,821.3 L1424.2,823.2 L1425.1,820.0 L1426.0,823.0 L1426.9,823.8 L1427.8,824.5 L1428.7,820.7 L1429.6,823.7 L1430.5,824.1 L1431.4,821.2 L1432.3,821.7 L1433.2,821.0 L1434.1,822.1 L1435.0,824.7 L1435.9,811.2 L1436.8,831.0 L1437.7,827.1 L1438.6,826.4 L1439.5,824.7 L1440.4,820.6 L1441.3,830.2 L1442.2,820.9 L1443.1,821.0 L1444.0,820.8 L1444.9,824.6 L1445.8,822.5 L1446.7,816.4 L1447.6,823.6 L1448.5,818.5 L1449.4,825.0 L1450.3,822.0 L1451.2,819.8 L1452.1,824.8 L1453.0,819.5 L1453.9,822.4 L1454.8,817.7 L1455.7,824.0 L1456.6,823.2 L1457.5,826.3 L1458.4,822.9 L1459.3,817.6 L1460.2,821.9" stroke="#0ae000" fill="none" stroke-width="8" stroke-linejoin="round" stroke-linecap="round"/>
<path d="M90.7,1056.9 L91.6,1051.1 L92.5,1056.4 L93.4,1062.9 L94.3,1066.6 L95.2,1058.7 L96.1,1059.6 L97.0,1060.9 L97.9,1070.1 L98.8,1046.7 L99.7,1074.7 L100.6,1067.6 L101.5,1060.8 L102.4,1069.8 L103.3,1056.8 L104.2,1070.6 L105.1,1064.6 L106.0,1055.8 L106.9,1062.0 L107.8,1072.3 L108.7,1059.5 L109.6,1064.9 L110.5,1068.3 L111.4,1068.2 L112.3,1070.1 L113.2,1058.8 L114.1,1071.1 L115.0,1070.7 L115.9,1065.3 L116.8,1067.6 L117.7,1065.4 L118.6,1064.7 L119.5,1065.1 L120.4,1070.1 L121.3,1059.3 L122.2,1060.4 L123.1,1043.8 L124.0,1061.4 L124.9,1067.7 L125.8,1063.5 L126.7,1070.0 L127.6,1059.6 L128.5,1059.6 L129.4,1062.7 L130.3,1062.3 L131.2,1056.4 L132.1,1061.8 L133.0,1074.0 L133.9,1066.9 L134.8,1060.0 L135.7,1059.4 L136.6,1066.0 L137.5,1071.7 L138.4,1081.0 L139.3,1067.6 L140.2,1073.1 L141.1,1068.2 L142.0,1073.1 L142.9,1064.5 L143.8,1061.1 L144.7,1076.4 L145.6,1068.0 L146.5,1065.6 L147.4,1072.2 L148.3,1066.2 L149.2,1073.4 L150.1,1075.1 L151.0,1071.9 L151.9,1066.3 L152.8,1065.2 L153.7,1068.7 L154.6,1069.4 L155.5,1068.9 L156.4,1067.8 L157.3,1063.3 L158.2,1064.3 L159.1,1063.4 L160.0,1078.6 L160.9,1065.3 L161.8,1078.2 L162.7,1064.5 L163.6,1063.7 L164.5,1052.5 L165.4,1075.8 L166.3,1073.4 L167.2,1068.3 L168.1,1080.2 L169.0,1073.0 L169.9,1072.2 L170.8,1076.0 L171.7,1068.7 L172.6,1060.9 L173.5,1071.0 L174.4,1071.2 L175.3,1069.7 L176.2,1075.7 L177.1,1066.4 L178.0,1068.3 L178.9,1066.6 L179.8,1069.6 L180.7,1067.4 L181.6,1068.9 L182.5,1063.7 L183.4,1072.3 L184.3,1067.2 L185.2,1072.3 L186.1,1070.9 L187.0,1073.8 L187.9,1066.5 L188.8,1072.2 L189.7,1071.6 L190.6,1070.9 L191.5,1065.7 L192.4,1073.1 L193.3,1063.6 L194.2,1073.8 L195.1,1072.9 L196.0,1068.7 L196.9,1061.7 L197.8,1072.4 L198.7,1067.5 L199.6,1068.5 L200.5,1066.0 L201.4,1073.5 L202.3,1064.2 L203.2,1072.0 L204.1,1068.5 L205.0,1054.7 L205.9,1054.2 L206.8,1062.8 L207.7,1072.2 L208.6,1068.4 L209.5,1063.6 L210.4,1085.2 L211.3,1072.3 L212.2,1072.3 L213.1,1071.9 L214.0,1069.2 L214.9,1063.6 L215.8,1072.6 L216.7,1069.8 L217.6,1072.2 L218.5,1076.0 L219.4,1067.1 L220.3,1068.3 L221.2,1069.5 L222.1,1077.5 L223.0,1066.0 L223.9,1068.7 L224.8,1067.1 L225.7,1073.0 L226.6,1061.7 L227.5,1068.4 L228.4,1084.5 L229.3,1071.3 L230.2,1073.5 L231.1,1067.7 L232.0,1069.8 L232.9,1075.4 L233.8,1066.9 L234.7,1073.2 L235.6,1072.9 L236.5,1085.5 L237.4,1079.0 L238.3,1082.2 L239.2,1070.7 L240.1,1075.4 L241.0,1065.2 L241.9,1070.4 L242.8,1075.9 L243.7,1057.7 L244.6,1080.0 L245.5,1078.4 L246.4,1076.6 L247.3,1079.5 L248.2,1067.6 L249.1,1078.2 L250.0,1072.1 L250.9,1070.2 L251.8,1065.4 L252.7,1078.5 L253.6,1066.1 L254.5,1085.0 L255.4,1077.9 L256.3,1072.7 L257.2,1070.3 L258.1,1078.2 L259.0,1073.0 L259.9,1071.2 L260.8,1086.0 L261.7,1075.6 L262.6,1076.3 L263.5,1076.5 L264.4,1084.5 L265.3,1079.3 L266.2,1079.0 L267.1,1074.0 L268.0,1085.9 L268.9,1088.0 L269.8,1075.6 L270.7,1075.4 L271.6,1085.0 L272.5,1084.6 L273.4,1083.8 L274.3,1081.6 L275.2,1081.5 L276.1,1078.2 L277.0,1089.2 L277.9,1084.7 L278.8,1083.8 L279.7,1084.4 L280.6,1085.9 L281.5,1080.9 L282.4,1086.1 L283.3,1083.4 L284.2,1081.7 L285.1,1079.0 L286.0,1084.0 L286.9,1082.4 L287.8,1085.1 L288.7,1079.9 L289.6,1092.5 L290.5,1090.1 L291.4,1074.4 L292.3,1085.1 L293.2,1088.0 L294.1,1081.1 L295.0,1095.3 L295.9,1083.2 L296.8,1083.1 L297.7,1090.0 L298.6,1081.2 L299.5,1086.7 L300.4,1086.6 L301.3,1084.4 L302.2,1087.2 L303.1,1089.4 L304.0,1083.6 L304.9,1082.7 L305.8,1086.6 L306.7,1084.9 L307.6,1078.0 L308.5,1089.4 L309.4,1089.5 L310.3,1085.7 L311.2,1084.6 L312.1,1086.4 L313.0,1080.3 L313.9,1083.3 L314.8,1086.6 L315.7,1087.7 L316.6,1087.3 L317.5,1089.6 L318.4,1092.4 L319.3,1092.0 L320.2,1086.7 L321.1,1090.6 L322.0,1078.4 L322.9,1090.5 L323.8,1090.6 L324.7,1087.1 L325.6,1081.0 L326.5,1089.9 L327.4,1090.2 L328.3,1091.3 L329.2,1086.8 L330.1,1085.4 L331.0,1086.8 L331.9,1087.6 L332.8,1088.8 L333.7,1090.2 L334.6,1088.3 L335.5,1092.5 L336.4,1085.3 L337.3,1089.7 L338.2,1088.6 L339.1,1094.4 L340.0,1089.5 L340.9,1081.7 L341.8,1088.5 L342.7,1085.3 L343.6,1093.3 L344.5,1090.6 L345.4,1090.4 L346.3,1087.8 L347.2,1087.2 L348.1,1089.8 L349.0,1091.1 L349.9,1092.1 L350.8,1088.1 L351.7,1088.1 L352.6,1090.9 L353.5,1090.9 L354.4,1088.0 L355.3,1088.1 L356.2,1091.3 L357.1,1093.4 L358.0,1093.2 L358.9,1092.1 L359.8,1091.6 L360.7,1090.6 L361.6,1094.2 L362.5,1088.7 L363.4,1089.1 L364.3,1094.7 L365.2,1098.9 L366.1,1092.4 L367.0,1097.6 L367.9,1095.5 L368.8,1094.8 L369.7,1094.0 L370.6,1091.4 L371.5,1089.8 L372.4,1094.0 L373.3,1095.4 L374.2,1091.3 L375.1,1093.9 L376.0,1097.5 L376.9,1091.2 L377.8,1093.4 L378.7,1091.5 L379.6,1092.7 L380.5,1088.9 L381.4,1095.5 L382.3,1093.9 L383.2,1091.8 L384.1,1092.9 L385.0,1092.7 L385.9,1096.7 L386.8,1092.4 L387.7,1096.4 L388.6,1093.0 L389.5,1097.0 L390.4,1096.9 L391.3,1095.9 L392.2,1097.3 L393.1,1093.7 L394.0,1097.4 L394.9,1097.0 L395.8,1096.5 L396.7,1092.9 L397.6,1095.5 L398.5,1096.9 L399.4,1093.7 L400.3,1095.1 L401.2,1097.7 L402.1,1096.1 L403.0,1098.6 L403.9,1095.8 L404.8,1096.2 L405.7,1093.6 L406.6,1094.3 L407.5,1095.2 L408.4,1099.4 L409.3,1092.4 L410.2,1095.6 L411.1,1101.1 L412.0,1096.1 L412.9,1097.9 L413.8,1096.2 L414.7,1093.5 L415.6,1098.5 L416.5,1100.9 L417.4,1093.5 L418.3,1092.8 L419.2,1094.0 L420.1,1097.1 L421.0,1091.8 L421.9,1097.4 L422.8,1094.3 L423.7,1098.1 L424.6,1098.5 L425.5,1096.3 L426.4,1094.7 L427.3,1093.8 L428.2,1095.7 L429.1,1096.8 L430.0,1097.2 L430.9,1098.8 L431.8,1100.0 L432.7,1091.9 L433.6,1099.3 L434.5,1102.1 L435.4,1100.9 L436.3,1095.0 L437.2,1093.4 L438.1,1098.2 L439.0,1095.9 L439.9,1098.4 L440.8,1097.1 L441.7,1095.3 L442.6,1097.5 L443.5,1101.4 L444.4,1099.1 L445.3,1100.8 L446.2,1096.3 L447.1,1096.3 L448.0,1098.2 L448.9,1093.9 L449.8,1095.1 L450.7,1094.7 L451.6,1096.7 L452.5,1099.0 L453.4,1095.3 L454.3,1100.1 L455.2,1103.2 L456.1,1098.5 L457.0,1096.9 L457.9,1100.2 L458.8,1097.6 L459.7,1087.7 L460.6,1097.2 L461.5,1100.4 L462.4,1100.8 L463.3,1098.9 L464.2,1096.3 L465.1,1098.9 L466.0,1099.5 L466.9,1100.8 L467.8,1098.4 L468.7,1092.0 L469.6,1099.5 L470.5,1095.8 L471.4,1094.7 L472.3,1100.2 L473.2,1100.5 L474.1,1096.9 L475.0,1097.9 L475.9,1096.8 L476.8,1102.2 L477.7,1096.7 L478.6,1098.5 L479.5,1097.2 L480.4,1092.3 L481.3,1094.7 L482.2,1100.3 L483.1,1093.4 L484.0,1092.8 L484.9,1096.1 L485.8,1101.2 L486.7,1101.2 L487.6,1092.5 L488.5,1095.1 L489.4,1096.5 L490.3,1094.2 L491.2,1096.4 L492.1,1095.4 L493.0,1095.6 L493.9,1100.2 L494.8,1100.7 L495.7,1095.8 L496.6,1098.7 L497.5,1095.4 L498.4,1100.3 L499.3,1095.9 L500.2,1100.1 L501.1,1100.5 L502.0,1097.2 L502.9,1093.8 L503.8,1098.0 L504.7,1095.5 L505.6,1092.4 L506.5,1099.8 L507.4,1098.5 L508.3,1101.4 L509.2,1106.6 L510.1,1098.0 L511.0,1095.7 L511.9,1099.0 L512.8,1095.9 L513.7,1097.0 L514.6,1091.1 L515.5,1092.4 L516.4,1099.4 L517.3,1097.2 L518.2,1096.5 L519.1,1100.3 L520.0,1094.8 L520.9,1095.2 L521.8,1098.0 L522.7,1099.0 L523.6,1098.0 L524.5,1093.1 L525.4,1099.1 L526.3,1097.7 L527.2,1095.5 L528.1,1098.1 L529.0,1098.2 L529.9,1096.9 L530.8,1101.2 L531.7,1097.8 L532.6,1100.3 L533.5,1095.1 L534.4,1097.7 L535.3,1099.1 L536.2,1094.3 L537.1,1091.9 L538.0,1095.3 L538.9,1098.0 L539.8,1097.4 L540.7,1092.6 L541.6,1098.2 L542.5,1097.5 L543.4,1098.9 L544.3,1095.8 L545.2,1095.6 L546.1,1097.3 L547.0,1098.8 L547.9,1095.5 L548.8,1098.1 L549.7,1097.7 L550.6,1099.2 L551.5,1095.0 L552.4,1099.1 L553.3,1097.7 L554.2,1098.9 L555.1,1099.4 L556.0,1098.3 L556.9,1099.4 L557.8,1094.7 L558.7,1096.0 L559.6,1100.0 L560.5,1097.9 L561.4,1100.8 L562.3,1099.9 L563.2,1098.6 L564.1,1096.3 L565.0,1096.8 L565.9,1100.8 L566.8,1101.1 L567.7,1099.4 L568.6,1096.8 L569.5,1097.8 L570.4,1100.1 L571.3,1099.1 L572.2,1106.3 L573.1,1096.8 L574.0,1101.4 L574.9,1097.4 L575.8,1096.2 L576.7,1096.1 L577.6,1100.2 L578.5,1098.6 L579.4,1097.7 L580.3,1097.8 L581.2,1096.8 L582.1,1098.6 L583.0,1097.0 L583.9,1096.2 L584.8,1098.7 L585.7,1102.3 L586.6,1096.1 L587.5,1098.1 L588.4,1099.0 L589.3,1098.4 L590.2,1097.0 L591.1,1100.7 L592.0,1098.0 L592.9,1100.0 L593.8,1096.8 L594.7,1096.6 L595.6,1095.8 L596.5,1101.8 L597.4,1098.5 L598.3,1100.2 L599.2,1098.4 L600.1,1097.6 L601.0,1098.5 L601.9,1096.2 L602.8,1098.9 L603.7,1097.4 L604.6,1101.6 L605.5,1099.0 L606.4,1098.0 L607.3,1098.7 L608.2,1097.5 L609.1,1097.8 L610.0,1100.5 L610.9,1096.0 L611.8,1097.9 L612.7,1099.1 L613.6,1097.5 L614.5,1101.7 L615.4,1096.7 L616.3,1098.7 L617.2,1098.3 L618.1,1090.5 L619.0,1098.8 L619.9,1094.9 L620.8,1095.3 L621.7,1099.0 L622.6,1100.1 L623.5,1097.8 L624.4,1100.3 L625.3,1101.3 L626.2,1097.3 L627.1,1098.2 L628.0,1100.5 L628.9,1095.4 L629.8,1098.2 L630.7,1099.6 L631.6,1095.9 L632.5,1096.2 L633.4,1095.1 L634.3,1095.4 L635.2,1097.0 L636.1,1098.8 L637.0,1102.2 L637.9,1096.8 L638.8,1099.5 L639.7,1101.4 L640.6,1098.1 L641.5,1099.2 L642.4,1095.7 L643.3,1097.0 L644.2,1098.9 L645.1,1100.2 L646.0,1093.8 L646.9,1095.6 L647.8,1102.4 L648.7,1099.7 L649.6,1099.7 L650.5,1095.1 L651.4,1097.4 L652.3,1098.2 L653.2,1094.7 L654.1,1097.4 L655.0,1095.9 L655.9,1094.0 L656.8,1095.6 L657.7,1102.2 L658.6,1102.2 L659.5,1094.1 L660.4,1095.9 L661.3,1092.7 L662.2,1095.5 L663.1,1098.8 L664.0,1098.5 L664.9,1097.6 L665.8,1095.4 L666.7,1095.2 L667.6,1095.1 L668.5,1094.6 L669.4,1098.4 L670.3,1097.7 L671.2,1098.4 L672.1,1094.6 L673.0,1092.8 L673.9,1095.7 L674.8,1097.2 L675.7,1094.7 L676.6,1099.5 L677.5,1095.8 L678.4,1095.1 L679.3,1097.9 L680.2,1101.9 L681.1,1096.8 L682.0,1097.6 L682.9,1097.5 L683.8,1101.7 L684.7,1101.7 L685.6,1097.9 L686.5,1098.3 L687.4,1096.6 L688.3,1094.5 L689.2,1100.8 L690.1,1099.5 L691.0,1099.6 L691.9,1090.4 L692.8,1099.4 L693.7,1098.9 L694.6,1095.8 L695.5,1099.7 L696.4,1104.5 L697.3,1099.7 L698.2,1099.6 L699.1,1091.0 L700.0,1097.1 L700.9,1100.5 L701.8,1095.1 L702.7,1100.6 L703.6,1081.3 L704.5,1099.3 L705.4,1098.7 L706.3,1095.7 L707.2,1098.0 L708.1,1101.8 L709.0,1100.0 L709.9,1096.8 L710.8,1100.5 L711.7,1095.5 L712.6,1098.0 L713.5,1097.1 L714.4,1096.7 L715.3,1101.7 L716.2,1100.3 L717.1,1099.5 L718.0,1100.4 L718.9,1100.3 L719.8,1100.6 L720.7,1099.0 L721.6,1102.1 L722.5,1098.8 L723.4,1096.0 L724.3,1097.7 L725.2,1101.3 L726.1,1099.0 L727.0,1101.2 L727.9,1101.9 L728.8,1099.3 L729.7,1100.2 L730.6,1100.6 L731.5,1099.5 L732.4,1094.9 L733.3,1103.6 L734.2,1097.6 L735.1,1096.9 L736.0,1103.8 L736.9,1096.5 L737.8,1095.7 L738.7,1099.2 L739.6,1096.9 L740.5,1097.9 L741.4,1099.4 L742.3,1099.5 L743.2,1098.0 L744.1,1097.6 L745.0,1090.8 L745.9,1099.6 L746.8,1099.0 L747.7,1099.1 L748.6,1098.5 L749.5,1100.6 L750.4,1103.1 L751.3,1100.9 L752.2,1103.2 L753.1,1098.8 L754.0,1094.9 L754.9,1097.4 L755.8,1100.7 L756.7,1097.7 L757.6,1099.2 L758.5,1098.0 L759.4,1098.8 L760.3,1098.1 L761.2,1100.9 L762.1,1098.2 L763.0,1100.2 L763.9,1102.5 L764.8,1101.9 L765.7,1100.0 L766.6,1102.7 L767.5,1104.6 L768.4,1102.4 L769.3,1100.5 L770.2,1105.6 L771.1,1103.8 L772.0,1098.2 L772.9,1101.3 L773.8,1099.3 L774.7,1101.8 L775.6,1097.6 L776.5,1100.4 L777.4,1099.2 L778.3,1098.9 L779.2,1099.5 L780.1,1103.6 L781.0,1107.6 L781.9,1100.1 L782.8,1100.5 L783.7,1100.3 L784.6,1095.5 L785.5,1099.2 L786.4,1101.3 L787.3,1099.9 L788.2,1098.8 L789.1,1101.5 L790.0,1100.7 L790.9,1102.5 L791.8,1099.9 L792.7,1099.4 L793.6,1100.2 L794.5,1101.3 L795.4,1098.4 L796.3,1101.5 L797.2,1099.8 L798.1,1099.0 L799.0,1102.4 L799.9,1097.9 L800.8,1094.2 L801.7,1099.7 L802.6,1099.4 L803.5,1100.7 L804.4,1100.0 L805.3,1103.8 L806.2,1101.4 L807.1,1098.0 L808.0,1102.2 L808.9,1099.9 L809.8,1095.1 L810.7,1100.8 L811.6,1101.1 L812.5,1099.9 L813.4,1099.4 L814.3,1097.9 L815.2,1097.2 L816.1,1100.5 L817.0,1097.5 L817.9,1103.7 L818.8,1097.2 L819.7,1094.1 L820.6,1098.9 L821.5,1099.6 L822.4,1095.0 L823.3,1100.0 L824.2,1096.0 L825.1,1094.6 L826.0,1101.4 L826.9,1096.6 L827.8,1099.4 L828.7,1095.3 L829.6,1098.6 L830.5,1095.8 L831.4,1101.9 L832.3,1098.6 L833.2,1099.8 L834.1,1100.3 L835.0,1099.7 L835.9,1094.8 L836.8,1098.4 L837.7,1099.6 L838.6,1099.8 L839.5,1096.3 L840.4,1101.2 L841.3,1100.1 L842.2,1099.1 L843.1,1099.4 L844.0,1096.8 L844.9,1097.4 L845.8,1100.5 L846.7,1099.7 L847.6,1103.8 L848.5,1103.6 L849.4,1097.3 L850.3,1096.9 L851.2,1097.2 L852.1,1102.5 L853.0,1097.8 L853.9,1098.7 L854.8,1094.4 L855.7,1101.2 L856.6,1098.2 L857.5,1100.9 L858.4,1093.3 L859.3,1095.1 L860.2,1095.7 L861.1,1098.9 L862.0,1097.1 L862.9,1102.0 L863.8,1096.1 L864.7,1096.3 L865.6,1101.4 L866.5,1101.3 L867.4,1097.6 L868.3,1095.6 L869.2,1099.3 L870.1,1099.1 L871.0,1095.1 L871.9,1098.8 L872.8,1102.3 L873.7,1096.1 L874.6,1099.3 L875.5,1093.8 L876.4,1096.4 L877.3,1096.9 L878.2,1100.3 L879.1,1099.3 L880.0,1097.8 L880.9,1097.1 L881.8,1098.0 L882.7,1096.3 L883.6,1097.6 L884.5,1097.4 L885.4,1095.9 L886.3,1096.7 L887.2,1088.7 L888.1,1100.3 L889.0,1096.0 L889.9,1096.1 L890.8,1096.9 L891.7,1097.5 L892.6,1096.6 L893.5,1094.2 L894.4,1099.7 L895.3,1095.3 L896.2,1093.0 L897.1,1087.4 L898.0,1094.1 L898.9,1090.0 L899.8,1093.0 L900.7,1092.7 L905.0,1090.0 L910.0,1084.0 L913.0,1075.0 L915.2,1035.7 L917.5,960.0 L919.2,840.0 L919.5,790.0 L921.0,745.0 L922.8,705.0 L924.6,600.0 L924.6,300.0 L925.4,300.0 L925.4,600.0 L926.2,705.0 L927.2,745.0 L927.9,790.0 L928.8,840.0 L930.5,960.0 L933.0,1035.0 L936.5,1079.0 L940.0,1093.0 L946.7,1101.0 L948.0,1099.2 L948.9,1099.3 L949.8,1097.0 L950.7,1098.0 L951.6,1100.3 L952.5,1099.8 L953.4,1101.2 L954.3,1102.4 L955.2,1103.7 L956.1,1101.5 L957.0,1104.3 L957.9,1108.8 L958.8,1096.8 L959.7,1099.8 L960.6,1100.1 L961.5,1098.3 L962.4,1101.6 L963.3,1102.2 L964.2,1103.3 L965.1,1099.0 L966.0,1099.8 L966.9,1102.4 L967.8,1099.1 L968.7,1100.3 L969.6,1099.0 L970.5,1099.7 L971.4,1099.9 L972.3,1102.2 L973.2,1099.6 L974.1,1099.0 L975.0,1102.3 L975.9,1096.7 L976.8,1101.0 L977.7,1103.1 L978.6,1099.7 L979.5,1099.9 L980.4,1100.9 L981.3,1102.4 L982.2,1102.3 L983.1,1100.3 L984.0,1101.1 L984.9,1098.4 L985.8,1099.3 L986.7,1100.9 L987.6,1100.1 L988.5,1099.9 L989.4,1102.1 L990.3,1102.0 L991.2,1102.2 L992.1,1100.7 L993.0,1100.6 L993.9,1098.4 L994.8,1102.9 L995.7,1098.2 L996.6,1100.7 L997.5,1103.5 L998.4,1101.5 L999.3,1103.0 L1000.2,1102.0 L1001.1,1100.1 L1002.0,1101.1 L1002.9,1107.3 L1003.8,1106.8 L1004.7,1108.6 L1005.6,1099.6 L1006.5,1098.5 L1007.4,1100.5 L1008.3,1100.6 L1009.2,1101.5 L1010.1,1104.2 L1011.0,1101.6 L1011.9,1102.6 L1012.8,1098.7 L1013.7,1101.8 L1014.6,1102.3 L1015.5,1099.9 L1016.4,1102.3 L1017.3,1104.3 L1018.2,1101.1 L1019.1,1098.8 L1020.0,1101.8 L1020.9,1097.6 L1021.8,1101.9 L1022.7,1099.9 L1023.6,1098.4 L1024.5,1104.8 L1025.4,1100.7 L1026.3,1100.0 L1027.2,1102.0 L1028.1,1101.2 L1029.0,1099.3 L1029.9,1102.8 L1030.8,1101.5 L1031.7,1100.9 L1032.6,1100.3 L1033.5,1099.0 L1034.4,1100.1 L1035.3,1102.7 L1036.2,1098.6 L1037.1,1100.4 L1038.0,1101.6 L1038.9,1100.5 L1039.8,1095.6 L1040.7,1103.4 L1041.6,1100.4 L1042.5,1100.0 L1043.4,1096.4 L1044.3,1102.5 L1045.2,1100.1 L1046.1,1100.7 L1047.0,1101.3 L1047.9,1100.6 L1048.8,1099.2 L1049.7,1100.5 L1050.6,1101.0 L1051.5,1099.4 L1052.4,1098.8 L1053.3,1095.9 L1054.2,1096.2 L1055.1,1100.8 L1056.0,1098.9 L1056.9,1099.9 L1057.8,1098.4 L1058.7,1097.1 L1059.6,1099.3 L1060.5,1098.2 L1061.4,1100.5 L1062.3,1097.5 L1063.2,1095.9 L1064.1,1099.5 L1065.0,1096.6 L1065.9,1098.6 L1066.8,1099.3 L1067.7,1098.2 L1068.6,1097.7 L1069.5,1101.6 L1070.4,1097.8 L1071.3,1099.4 L1072.2,1100.7 L1073.1,1100.5 L1074.0,1095.5 L1074.9,1100.5 L1075.8,1101.0 L1076.7,1098.0 L1077.6,1098.1 L1078.5,1097.2 L1079.4,1097.7 L1080.3,1097.3 L1081.2,1096.5 L1082.1,1097.4 L1083.0,1098.1 L1083.9,1093.7 L1084.8,1099.0 L1085.7,1098.2 L1086.6,1097.7 L1087.5,1097.4 L1088.4,1097.6 L1089.3,1095.7 L1090.2,1095.7 L1091.1,1098.2 L1092.0,1097.3 L1092.9,1098.8 L1093.8,1096.4 L1094.7,1099.9 L1095.6,1098.9 L1096.5,1097.4 L1097.4,1099.4 L1098.3,1098.9 L1099.2,1101.6 L1100.1,1096.8 L1101.0,1106.7 L1101.9,1100.7 L1102.8,1099.9 L1103.7,1101.0 L1104.6,1099.0 L1105.5,1104.3 L1106.4,1101.4 L1107.3,1099.5 L1108.2,1100.3 L1109.1,1103.7 L1110.0,1099.7 L1110.9,1102.9 L1111.8,1100.0 L1112.7,1097.3 L1113.6,1097.9 L1114.5,1100.0 L1115.4,1098.7 L1116.3,1102.5 L1117.2,1102.6 L1118.1,1101.9 L1119.0,1105.4 L1119.9,1098.4 L1120.8,1099.2 L1121.7,1101.1 L1122.6,1103.5 L1123.5,1099.6 L1124.4,1104.8 L1125.3,1104.9 L1126.2,1100.5 L1127.1,1102.0 L1128.0,1102.3 L1128.9,1099.3 L1129.8,1099.2 L1130.7,1104.4 L1131.6,1102.8 L1132.5,1103.1 L1133.4,1099.9 L1134.3,1102.1 L1135.2,1101.4 L1136.1,1100.1 L1137.0,1101.4 L1137.9,1101.6 L1138.8,1102.1 L1139.7,1102.3 L1140.6,1104.9 L1141.5,1100.5 L1142.4,1103.7 L1143.3,1104.9 L1144.2,1104.2 L1145.1,1102.5 L1146.0,1103.2 L1146.9,1103.9 L1147.8,1100.2 L1148.7,1099.9 L1149.6,1100.7 L1150.5,1100.5 L1151.4,1101.9 L1152.3,1100.3 L1153.2,1100.9 L1154.1,1102.1 L1155.0,1101.1 L1155.9,1102.9 L1156.8,1102.5 L1157.7,1102.1 L1158.6,1101.2 L1159.5,1104.0 L1160.4,1102.5 L1161.3,1099.4 L1162.2,1100.2 L1163.1,1104.7 L1164.0,1102.5 L1164.9,1102.4 L1165.8,1105.0 L1166.7,1102.4 L1167.6,1100.4 L1168.5,1100.6 L1169.4,1101.4 L1170.3,1099.3 L1171.2,1102.8 L1172.1,1097.6 L1173.0,1100.3 L1173.9,1100.7 L1174.8,1101.0 L1175.7,1100.0 L1176.6,1100.3 L1177.5,1104.4 L1178.4,1102.0 L1179.3,1100.0 L1180.2,1102.7 L1181.1,1100.7 L1182.0,1103.3 L1182.9,1099.9 L1183.8,1099.1 L1184.7,1100.5 L1185.6,1101.9 L1186.5,1104.2 L1187.4,1103.4 L1188.3,1105.9 L1189.2,1101.6 L1190.1,1102.6 L1191.0,1103.4 L1191.9,1097.4 L1192.8,1102.8 L1193.7,1100.1 L1194.6,1101.2 L1195.5,1099.9 L1196.4,1104.3 L1197.3,1098.8 L1198.2,1100.4 L1199.1,1099.8 L1200.0,1099.1 L1200.9,1103.0 L1201.8,1102.2 L1202.7,1104.7 L1203.6,1104.0 L1204.5,1100.1 L1205.4,1100.9 L1206.3,1101.4 L1207.2,1101.3 L1208.1,1103.0 L1209.0,1101.4 L1209.9,1100.9 L1210.8,1099.9 L1211.7,1101.7 L1212.6,1100.5 L1213.5,1096.7 L1214.4,1102.8 L1215.3,1101.4 L1216.2,1101.2 L1217.1,1103.8 L1218.0,1100.3 L1218.9,1100.2 L1219.8,1102.2 L1220.7,1096.7 L1221.6,1101.2 L1222.5,1099.9 L1223.4,1104.3 L1224.3,1105.4 L1225.2,1100.3 L1226.1,1104.3 L1227.0,1099.9 L1227.9,1108.3 L1228.8,1106.4 L1229.7,1100.3 L1230.6,1102.3 L1231.5,1102.7 L1232.4,1100.7 L1233.3,1101.8 L1234.2,1103.3 L1235.1,1102.2 L1236.0,1104.7 L1236.9,1103.0 L1237.8,1102.7 L1238.7,1102.7 L1239.6,1110.7 L1240.5,1103.9 L1241.4,1099.5 L1242.3,1102.1 L1243.2,1102.7 L1244.1,1102.8 L1245.0,1101.7 L1245.9,1100.3 L1246.8,1100.8 L1247.7,1108.8 L1248.6,1101.4 L1249.5,1102.1 L1250.4,1102.1 L1251.3,1105.0 L1252.2,1103.2 L1253.1,1101.1 L1254.0,1104.1 L1254.9,1103.4 L1255.8,1101.6 L1256.7,1102.6 L1257.6,1100.2 L1258.5,1102.1 L1259.4,1102.6 L1260.3,1100.7 L1261.2,1104.3 L1262.1,1100.9 L1263.0,1101.9 L1263.9,1099.4 L1264.8,1104.4 L1265.7,1100.5 L1266.6,1104.8 L1267.5,1103.9 L1268.4,1103.3 L1269.3,1100.7 L1270.2,1101.7 L1271.1,1104.3 L1272.0,1102.5 L1272.9,1102.9 L1273.8,1102.1 L1274.7,1105.3 L1275.6,1103.0 L1276.5,1101.7 L1277.4,1105.3 L1278.3,1104.0 L1279.2,1102.3 L1280.1,1102.2 L1281.0,1104.6 L1281.9,1104.5 L1282.8,1105.0 L1283.7,1104.9 L1284.6,1104.9 L1285.5,1102.8 L1286.4,1105.6 L1287.3,1100.3 L1288.2,1104.4 L1289.1,1101.8 L1290.0,1104.3 L1290.9,1104.5 L1291.8,1101.5 L1292.7,1102.5 L1293.6,1103.0 L1294.5,1101.7 L1295.4,1107.3 L1296.3,1106.2 L1297.2,1101.8 L1298.1,1109.6 L1299.0,1105.7 L1299.9,1104.0 L1300.8,1105.7 L1301.7,1109.2 L1302.6,1105.3 L1303.5,1101.7 L1304.4,1104.8 L1305.3,1103.1 L1306.2,1102.1 L1307.1,1105.9 L1308.0,1106.5 L1308.9,1103.5 L1309.8,1103.0 L1310.7,1103.9 L1311.6,1105.3 L1312.5,1101.5 L1313.4,1105.9 L1314.3,1100.4 L1315.2,1104.7 L1316.1,1105.3 L1317.0,1101.9 L1317.9,1104.8 L1318.8,1103.2 L1319.7,1107.1 L1320.6,1102.9 L1321.5,1100.3 L1322.4,1096.2 L1323.3,1103.4 L1324.2,1103.5 L1325.1,1101.5 L1326.0,1105.3 L1326.9,1100.4 L1328.2,1100.6 L1334.2,1092.0 L1338.5,1085.2 L1341.9,1078.4 L1342.7,1061.3 L1343.6,1052.7 L1346.2,1044.2 L1347.0,1030.5 L1349.1,1028.6 L1352.1,1032.2 L1353.8,1045.9 L1355.6,1061.3 L1358.1,1071.5 L1359.0,1091.2 L1361.5,1097.2 L1366.7,1104.0 L1369.0,1106.4 L1369.9,1102.6 L1370.8,1103.3 L1371.7,1107.0 L1372.6,1107.9 L1373.5,1103.4 L1374.4,1105.6 L1375.3,1094.1 L1376.2,1104.6 L1377.1,1105.4 L1378.0,1105.0 L1378.9,1105.2 L1379.8,1106.9 L1380.7,1104.4 L1381.6,1104.0 L1382.5,1106.0 L1383.4,1101.9 L1384.3,1103.6 L1385.2,1103.4 L1386.1,1105.0 L1387.0,1105.8 L1387.9,1103.9 L1388.8,1101.6 L1389.7,1103.5 L1390.6,1106.3 L1391.5,1101.3 L1392.4,1107.2 L1393.3,1104.9 L1394.2,1104.1 L1395.1,1104.4 L1396.0,1102.9 L1396.9,1106.5 L1397.8,1104.4 L1398.7,1105.0 L1399.6,1109.2 L1400.5,1103.5 L1401.4,1102.6 L1402.3,1106.3 L1403.2,1104.1 L1404.1,1105.0 L1405.0,1102.8 L1405.9,1103.2 L1406.8,1101.9 L1407.7,1103.4 L1408.6,1104.5 L1409.5,1103.5 L1410.4,1104.2 L1411.3,1102.9 L1412.2,1108.9 L1413.1,1103.4 L1414.0,1104.8 L1414.9,1104.1 L1415.8,1100.4 L1416.7,1104.1 L1417.6,1101.4 L1418.5,1105.9 L1419.4,1103.9 L1420.3,1103.4 L1421.2,1100.5 L1422.1,1103.6 L1423.0,1104.8 L1423.9,1105.7 L1424.8,1101.8 L1425.7,1105.8 L1426.6,1103.2 L1427.5,1105.4 L1428.4,1105.5 L1429.3,1103.6 L1430.2,1104.7 L1431.1,1102.4 L1432.0,1106.0 L1432.9,1108.6 L1433.8,1105.2 L1434.7,1103.5 L1435.6,1100.4 L1436.5,1106.9 L1437.4,1106.8 L1438.3,1105.1 L1439.2,1103.0 L1440.1,1103.9 L1441.0,1102.3 L1441.9,1101.7 L1442.8,1105.7 L1443.7,1104.7 L1444.6,1103.8 L1445.5,1105.2 L1446.4,1108.7 L1447.3,1103.7 L1448.2,1103.3 L1449.1,1105.6 L1450.0,1107.4 L1450.9,1104.8 L1451.8,1103.4 L1452.7,1102.0 L1453.6,1106.2 L1454.5,1104.7 L1455.4,1103.0 L1456.3,1103.9 L1457.2,1106.2 L1458.1,1104.0 L1459.0,1103.9 L1459.9,1108.2" stroke="#1089ff" fill="none" stroke-width="8" stroke-linejoin="round" stroke-linecap="round"/>
<path d="M899.0,800.0 L901.0,780.0 L903.0,772.0 L904.5,755.0 L905.5,739.0 L906.5,738.0 L907.0,760.0 L907.5,790.0 L908.0,806.0 L910.0,808.0 L911.5,790.0 L912.5,741.0 L914.5,720.0 L917.0,700.0 L918.4,650.0 L919.2,590.0 L920.0,450.0 L920.7,320.0 L922.0,49.0 L927.0,49.0 L927.8,320.0 L929.2,450.0 L930.4,590.0 L931.6,650.0 L932.5,705.0 L933.5,760.0 L934.0,781.0 L936.0,790.0 L937.5,800.0 L940.0,810.0 L943.0,814.0 L946.0,816.0" stroke="#0ae000" fill="none" stroke-width="8" stroke-linejoin="round" stroke-linecap="round" clip-path="url(#gt)"/>
</g>
<rect x="72.3" y="46" width="7.6" height="1090.7" fill="#000"/><rect x="86.1" y="1143.1" width="1378.9" height="7.7" fill="#000"/><rect x="86.10" y="1146" width="7.4" height="18.4" fill="#000"/><rect x="191.59" y="1146" width="7.4" height="24.8" fill="#000"/><rect x="297.08" y="1146" width="7.4" height="18.4" fill="#000"/><rect x="402.57" y="1146" width="7.4" height="24.8" fill="#000"/><rect x="508.06" y="1146" width="7.4" height="18.4" fill="#000"/><rect x="613.55" y="1146" width="7.4" height="24.8" fill="#000"/><rect x="719.04" y="1146" width="7.4" height="18.4" fill="#000"/><rect x="824.53" y="1146" width="7.4" height="24.8" fill="#000"/><rect x="930.02" y="1146" width="7.4" height="18.4" fill="#000"/><rect x="1035.51" y="1146" width="7.4" height="24.8" fill="#000"/><rect x="1141.00" y="1146" width="7.4" height="18.4" fill="#000"/><rect x="1246.49" y="1146" width="7.4" height="24.8" fill="#000"/><rect x="1351.98" y="1146" width="7.4" height="18.4" fill="#000"/><rect x="1457.47" y="1146" width="7.4" height="24.8" fill="#000"/>
<rect x="968" y="688" width="530" height="58" fill="#fff"/>
<rect x="972" y="946" width="420" height="66" fill="#fff"/>
<g font-family='"Liberation Sans", sans-serif' fill="#000" stroke="#000" stroke-width="1.3" style="will-change:transform">
<text x="967.74" y="573.95" font-size="65.6" textLength="35.50" lengthAdjust="spacingAndGlyphs">P</text><text x="1003.00" y="573.95" font-size="65.6" textLength="38.29" lengthAdjust="spacingAndGlyphs">V</text><text x="1041.25" y="573.95" font-size="65.6" textLength="45.01" lengthAdjust="spacingAndGlyphs">D</text><text x="1098.78" y="573.95" font-size="65.6" textLength="57.07" lengthAdjust="spacingAndGlyphs">M</text><text x="1154.94" y="573.95" font-size="65.6" textLength="37.62" lengthAdjust="spacingAndGlyphs">o</text><text x="1193.56" y="573.95" font-size="65.6" textLength="31.42" lengthAdjust="spacingAndGlyphs">S</text><text x="1226.00" y="579.95" font-size="34.0" textLength="16.53" lengthAdjust="spacingAndGlyphs">x</text><text x="975.46" y="996.05" font-size="65.6" textLength="31.82" lengthAdjust="spacingAndGlyphs">E</text><text x="1007.37" y="996.05" font-size="65.6" textLength="21.12" lengthAdjust="spacingAndGlyphs">-</text><text x="1028.10" y="996.05" font-size="65.6" textLength="45.48" lengthAdjust="spacingAndGlyphs">D</text><text x="1074.14" y="996.05" font-size="65.6" textLength="33.86" lengthAdjust="spacingAndGlyphs">e</text><text x="1107.73" y="996.05" font-size="65.6" textLength="38.92" lengthAdjust="spacingAndGlyphs">p</text><text x="1159.02" y="996.05" font-size="65.6" textLength="56.58" lengthAdjust="spacingAndGlyphs">M</text><text x="1215.47" y="996.05" font-size="65.6" textLength="37.05" lengthAdjust="spacingAndGlyphs">o</text><text x="1252.30" y="1002.65" font-size="34.0" textLength="17.00" lengthAdjust="spacingAndGlyphs">x</text><text x="1271.86" y="996.05" font-size="65.6" textLength="31.42" lengthAdjust="spacingAndGlyphs">S</text><text x="1304.30" y="1002.65" font-size="34.0" textLength="17.00" lengthAdjust="spacingAndGlyphs">y</text><text x="1322.00" y="996.05" font-size="65.6" textLength="47.63" lengthAdjust="spacingAndGlyphs">O</text><text x="1368.20" y="1002.65" font-size="34.0" textLength="18.70" lengthAdjust="spacingAndGlyphs">z</text><text x="970.46" y="737.35" font-size="65.6" textLength="31.82" lengthAdjust="spacingAndGlyphs">E</text><text x="1002.37" y="737.35" font-size="65.6" textLength="21.12" lengthAdjust="spacingAndGlyphs">-</text><text x="1023.10" y="737.35" font-size="65.6" textLength="45.48" lengthAdjust="spacingAndGlyphs">D</text><text x="1069.14" y="737.35" font-size="65.6" textLength="33.86" lengthAdjust="spacingAndGlyphs">e</text><text x="1102.73" y="737.35" font-size="65.6" textLength="38.92" lengthAdjust="spacingAndGlyphs">p</text><text x="1154.02" y="737.35" font-size="65.6" textLength="56.58" lengthAdjust="spacingAndGlyphs">M</text><text x="1210.47" y="737.35" font-size="65.6" textLength="37.05" lengthAdjust="spacingAndGlyphs">o</text><text x="1247.50" y="743.85" font-size="34.0" textLength="17.00" lengthAdjust="spacingAndGlyphs">x</text><text x="1267.06" y="737.35" font-size="65.6" textLength="31.42" lengthAdjust="spacingAndGlyphs">S</text><text x="1299.50" y="743.85" font-size="34.0" textLength="17.00" lengthAdjust="spacingAndGlyphs">y</text><text x="1317.20" y="737.35" font-size="65.6" textLength="47.63" lengthAdjust="spacingAndGlyphs">O</text><text x="1363.40" y="743.85" font-size="34.0" textLength="18.70" lengthAdjust="spacingAndGlyphs">z</text><text x="1396.27" y="737.35" font-size="65.6" textLength="21.33" lengthAdjust="spacingAndGlyphs">/</text><text x="1433.03" y="737.35" font-size="65.6" textLength="43.26" lengthAdjust="spacingAndGlyphs">N</text><text x="1478.76" y="737.35" font-size="65.6" textLength="14.37" lengthAdjust="spacingAndGlyphs">i</text><text x="162.33" y="1222.60" font-size="62.1" textLength="32.18" lengthAdjust="spacingAndGlyphs" stroke-width="2.0" clip-path="url(#ct0a)">1</text><text x="195.11" y="1222.95" font-size="63.2" textLength="35.04" lengthAdjust="spacingAndGlyphs">0</text><text x="371.10" y="1222.95" font-size="63.2" textLength="33.98" lengthAdjust="spacingAndGlyphs">2</text><text x="406.00" y="1222.95" font-size="63.2" textLength="35.16" lengthAdjust="spacingAndGlyphs">0</text><text x="583.31" y="1222.95" font-size="63.2" textLength="31.41" lengthAdjust="spacingAndGlyphs">3</text><text x="617.22" y="1222.95" font-size="63.2" textLength="34.82" lengthAdjust="spacingAndGlyphs">0</text><text x="792.90" y="1222.95" font-size="63.2" textLength="35.16" lengthAdjust="spacingAndGlyphs">4</text><text x="828.10" y="1222.95" font-size="63.2" textLength="35.16" lengthAdjust="spacingAndGlyphs">0</text><text x="1005.09" y="1222.95" font-size="63.2" textLength="31.75" lengthAdjust="spacingAndGlyphs">5</text><text x="1039.11" y="1222.95" font-size="63.2" textLength="35.04" lengthAdjust="spacingAndGlyphs">0</text><text x="1214.01" y="1222.95" font-size="63.2" textLength="36.21" lengthAdjust="spacingAndGlyphs">6</text><text x="1250.01" y="1222.95" font-size="63.2" textLength="35.04" lengthAdjust="spacingAndGlyphs">0</text><text x="1427.02" y="1222.95" font-size="63.2" textLength="33.75" lengthAdjust="spacingAndGlyphs">7</text><text x="1461.22" y="1222.95" font-size="63.2" textLength="34.82" lengthAdjust="spacingAndGlyphs">0</text><text x="734.70" y="1286.55" font-size="63.2" textLength="32.81" lengthAdjust="spacingAndGlyphs">2</text><text x="769.61" y="1285.95" font-size="63.2" textLength="46.43" lengthAdjust="spacingAndGlyphs">Θ</text><text transform="translate(47.35,902.9) rotate(-90)" x="-4.74" y="0" font-size="65.0" textLength="222.59" lengthAdjust="spacingAndGlyphs">Relative</text><text transform="translate(47.35,902.9) rotate(-90)" x="232.03" y="0" font-size="65.0" textLength="245.24" lengthAdjust="spacingAndGlyphs">Intensity</text><text transform="translate(47.35,902.9) rotate(-90)" x="492.61" y="-4.0" font-size="58.2" textLength="16.77" lengthAdjust="spacingAndGlyphs">(</text><text transform="translate(47.35,902.9) rotate(-90)" x="510.52" y="0" font-size="65.0" textLength="101.87" lengthAdjust="spacingAndGlyphs">a.u.</text><text transform="translate(47.35,902.9) rotate(-90)" x="610.66" y="-4.0" font-size="58.2" textLength="14.71" lengthAdjust="spacingAndGlyphs">)</text><text x="150.36" y="104.45" font-size="47.0" textLength="13.64" lengthAdjust="spacingAndGlyphs">(</text><text x="165.00" y="108.75" font-size="51.0" textLength="28.38" lengthAdjust="spacingAndGlyphs">0</text><text x="192.77" y="108.75" font-size="51.0" textLength="26.52" lengthAdjust="spacingAndGlyphs">0</text><text x="219.48" y="108.75" font-size="51.0" textLength="28.61" lengthAdjust="spacingAndGlyphs">2</text><text x="249.11" y="104.45" font-size="47.0" textLength="12.64" lengthAdjust="spacingAndGlyphs">)</text><text x="272.54" y="108.75" font-size="51.0" textLength="47.34" lengthAdjust="spacingAndGlyphs">M</text><text x="318.22" y="108.75" font-size="51.0" textLength="29.51" lengthAdjust="spacingAndGlyphs">o</text><text x="349.21" y="108.75" font-size="51.0" textLength="23.59" lengthAdjust="spacingAndGlyphs">S</text><text x="374.71" y="109.65" font-size="29.5" textLength="16.20" lengthAdjust="spacingAndGlyphs">2</text><text x="723.39" y="33.05" font-size="47.0" textLength="12.64" lengthAdjust="spacingAndGlyphs">(</text><text x="739.08" y="37.00" font-size="50.0" textLength="24.42" lengthAdjust="spacingAndGlyphs" stroke-width="2.0" clip-path="url(#can1_1)">1</text><text x="766.24" y="37.00" font-size="50.0" textLength="25.79" lengthAdjust="spacingAndGlyphs" stroke-width="2.0" clip-path="url(#can1_2)">1</text><text x="792.73" y="37.35" font-size="51.0" textLength="27.61" lengthAdjust="spacingAndGlyphs">0</text><text x="821.81" y="33.05" font-size="47.0" textLength="12.64" lengthAdjust="spacingAndGlyphs">)</text><text x="847.92" y="37.35" font-size="51.0" textLength="23.97" lengthAdjust="spacingAndGlyphs">F</text><text x="871.08" y="37.35" font-size="51.0" textLength="27.24" lengthAdjust="spacingAndGlyphs">e</text><text x="666.97" y="396.15" font-size="47.0" textLength="13.53" lengthAdjust="spacingAndGlyphs">(</text><text x="683.91" y="400.10" font-size="50.0" textLength="23.05" lengthAdjust="spacingAndGlyphs" stroke-width="2.0" clip-path="url(#can2_1)">1</text><text x="709.43" y="400.45" font-size="51.0" textLength="24.56" lengthAdjust="spacingAndGlyphs">0</text><text x="738.00" y="400.45" font-size="51.0" textLength="25.54" lengthAdjust="spacingAndGlyphs">3</text><text x="765.76" y="396.15" font-size="47.0" textLength="13.53" lengthAdjust="spacingAndGlyphs">)</text><text x="790.04" y="400.45" font-size="51.0" textLength="45.28" lengthAdjust="spacingAndGlyphs">M</text><text x="834.72" y="400.45" font-size="51.0" textLength="29.51" lengthAdjust="spacingAndGlyphs">o</text><text x="865.71" y="400.45" font-size="51.0" textLength="23.71" lengthAdjust="spacingAndGlyphs">S</text><text x="892.17" y="400.95" font-size="29.5" textLength="15.22" lengthAdjust="spacingAndGlyphs">2</text><text x="1259.59" y="345.75" font-size="47.0" textLength="13.42" lengthAdjust="spacingAndGlyphs">(</text><text x="1274.11" y="350.05" font-size="51.0" textLength="26.84" lengthAdjust="spacingAndGlyphs">2</text><text x="1302.35" y="350.05" font-size="51.0" textLength="26.96" lengthAdjust="spacingAndGlyphs">0</text><text x="1330.38" y="350.05" font-size="51.0" textLength="26.19" lengthAdjust="spacingAndGlyphs">0</text><text x="1358.76" y="345.75" font-size="47.0" textLength="11.97" lengthAdjust="spacingAndGlyphs">)</text><text x="1384.12" y="350.05" font-size="51.0" textLength="24.81" lengthAdjust="spacingAndGlyphs">F</text><text x="1408.08" y="350.05" font-size="51.0" textLength="27.24" lengthAdjust="spacingAndGlyphs">e</text><text x="705.49" y="679.85" font-size="47.0" textLength="13.42" lengthAdjust="spacingAndGlyphs">(</text><text x="722.34" y="683.80" font-size="50.0" textLength="24.65" lengthAdjust="spacingAndGlyphs" stroke-width="2.0" clip-path="url(#can4_1)">1</text><text x="749.54" y="683.80" font-size="50.0" textLength="24.65" lengthAdjust="spacingAndGlyphs" stroke-width="2.0" clip-path="url(#can4_2)">1</text><text x="776.74" y="683.80" font-size="50.0" textLength="24.65" lengthAdjust="spacingAndGlyphs" stroke-width="2.0" clip-path="url(#can4_3)">1</text><text x="804.80" y="679.85" font-size="47.0" textLength="12.53" lengthAdjust="spacingAndGlyphs">)</text><text x="829.60" y="684.15" font-size="51.0" textLength="24.93" lengthAdjust="spacingAndGlyphs">F</text><text x="854.08" y="684.15" font-size="51.0" textLength="27.24" lengthAdjust="spacingAndGlyphs">e</text>
</g>
<rect x="256.60" y="121.40" width="28.90" height="28.90" fill="#1e2828" stroke="#000" stroke-width="4.4"/>
<rect x="801.15" y="414.90" width="28.90" height="28.90" fill="#1e2828" stroke="#000" stroke-width="4.4"/>
<polygon points="925.80,3.20 932.15,16.86 947.10,18.68 936.07,28.94 938.97,43.72 925.80,36.40 912.63,43.72 915.53,28.94 904.50,18.68 919.45,16.86" fill="#1e2828" stroke="#000" stroke-width="3.8" stroke-linejoin="miter" stroke-miterlimit="10"/>
<polygon points="1351.30,360.30 1357.65,373.96 1372.60,375.78 1361.57,386.04 1364.47,400.82 1351.30,393.50 1338.13,400.82 1341.03,386.04 1330.00,375.78 1344.95,373.96" fill="#1e2828" stroke="#000" stroke-width="3.8" stroke-linejoin="miter" stroke-miterlimit="10"/>
<polygon points="907.20,664.40 913.55,678.06 928.50,679.88 917.47,690.14 920.37,704.92 907.20,697.60 894.03,704.92 896.93,690.14 885.90,679.88 900.85,678.06" fill="#1e2828" stroke="#000" stroke-width="3.8" stroke-linejoin="miter" stroke-miterlimit="10"/>
</svg>
</body></html>
